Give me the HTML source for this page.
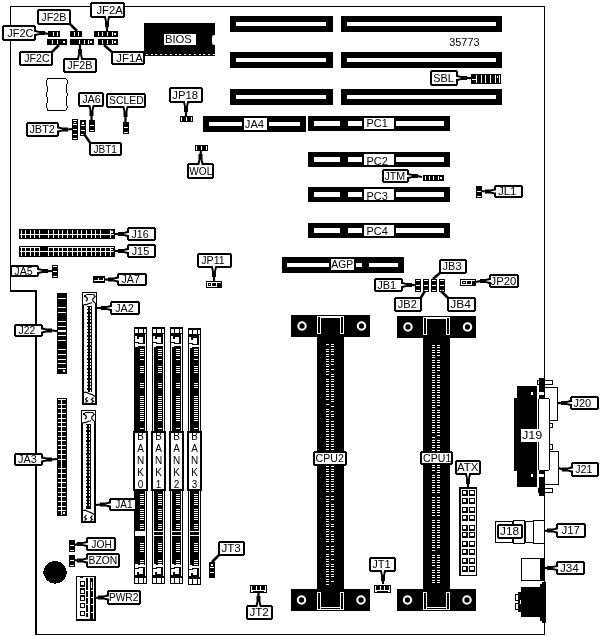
<!DOCTYPE html>
<html><head><meta charset="utf-8"><style>
html,body{margin:0;padding:0;background:#fff;}
svg{display:block;filter:grayscale(100%);}
text{font-family:"Liberation Sans",sans-serif;}
</style></head><body>
<svg width="602" height="636" viewBox="0 0 602 636" shape-rendering="crispEdges">
<rect x="10" y="6" width="535" height="1" fill="#000"/>
<rect x="10" y="6" width="1" height="285" fill="#000"/>
<rect x="10" y="290" width="27" height="2" fill="#000"/>
<rect x="35" y="290" width="2" height="345" fill="#000"/>
<rect x="36" y="634" width="509" height="1" fill="#000"/>
<rect x="544" y="6" width="1" height="629" fill="#000"/>
<rect x="230" y="16" width="103" height="16" fill="#000"/>
<rect x="236" y="22" width="90" height="4" fill="#fff"/>
<rect x="341" y="16" width="161" height="16" fill="#000"/>
<rect x="347" y="22" width="149" height="4" fill="#fff"/>
<rect x="230" y="52" width="103" height="16" fill="#000"/>
<rect x="236" y="58" width="90" height="4" fill="#fff"/>
<rect x="341" y="52" width="161" height="16" fill="#000"/>
<rect x="347" y="58" width="149" height="4" fill="#fff"/>
<rect x="230" y="89" width="103" height="16" fill="#000"/>
<rect x="236" y="95" width="90" height="4" fill="#fff"/>
<rect x="341" y="89" width="161" height="16" fill="#000"/>
<rect x="347" y="95" width="149" height="4" fill="#fff"/>
<rect x="144" y="23" width="71" height="33" fill="#000"/>
<path d="M215,35 h-1 a2,2 0 0 0 -2,2 v6 a2,2 0 0 0 2,2 h1 z" fill="#fff" shape-rendering="auto"/>
<rect x="146" y="54" width="2" height="1" fill="#fff"/>
<rect x="151" y="54" width="2" height="1" fill="#fff"/>
<rect x="155" y="54" width="2" height="1" fill="#fff"/>
<rect x="160" y="54" width="2" height="1" fill="#fff"/>
<rect x="165" y="54" width="2" height="1" fill="#fff"/>
<rect x="170" y="54" width="2" height="1" fill="#fff"/>
<rect x="175" y="54" width="2" height="1" fill="#fff"/>
<rect x="179" y="54" width="2" height="1" fill="#fff"/>
<rect x="184" y="54" width="2" height="1" fill="#fff"/>
<rect x="189" y="54" width="2" height="1" fill="#fff"/>
<rect x="194" y="54" width="2" height="1" fill="#fff"/>
<rect x="199" y="54" width="2" height="1" fill="#fff"/>
<rect x="203" y="54" width="2" height="1" fill="#fff"/>
<rect x="208" y="54" width="2" height="1" fill="#fff"/>
<rect x="213" y="54" width="2" height="1" fill="#fff"/>
<rect x="164" y="34" width="32" height="11" fill="#fff"/>
<text x="178.40" y="43.47" font-size="11.5" text-anchor="middle" fill="#000" textLength="27.0" lengthAdjust="spacingAndGlyphs">BIOS</text>
<text x="464.40" y="45.80" font-size="11.5" text-anchor="middle" fill="#000" textLength="30.2" lengthAdjust="spacingAndGlyphs">35773</text>
<rect x="203" y="116" width="103" height="16" fill="#000"/>
<rect x="209" y="122" width="33" height="4" fill="#fff"/>
<rect x="269" y="122" width="31" height="4" fill="#fff"/>
<rect x="244" y="118" width="23" height="12" fill="#fff"/>
<text x="254.45" y="127.97" font-size="11.5" text-anchor="middle" fill="#000" textLength="19.3" lengthAdjust="spacingAndGlyphs">JA4</text>
<rect x="308" y="116" width="142" height="15" fill="#000"/>
<rect x="314" y="121" width="26" height="5" fill="#fff"/>
<rect x="348" y="121" width="14" height="5" fill="#fff"/>
<rect x="396" y="121" width="48" height="5" fill="#fff"/>
<rect x="364" y="118" width="30" height="11" fill="#fff"/>
<text x="377.10" y="127.47" font-size="11.5" text-anchor="middle" fill="#000" textLength="21.2" lengthAdjust="spacingAndGlyphs">PC1</text>
<rect x="308" y="152" width="142" height="15" fill="#000"/>
<rect x="314" y="157" width="26" height="5" fill="#fff"/>
<rect x="348" y="157" width="14" height="5" fill="#fff"/>
<rect x="396" y="157" width="48" height="5" fill="#fff"/>
<rect x="364" y="154" width="30" height="11" fill="#fff"/>
<text x="377.10" y="164.97" font-size="11.5" text-anchor="middle" fill="#000" textLength="21.2" lengthAdjust="spacingAndGlyphs">PC2</text>
<rect x="308" y="187" width="142" height="15" fill="#000"/>
<rect x="314" y="192" width="26" height="5" fill="#fff"/>
<rect x="348" y="192" width="14" height="5" fill="#fff"/>
<rect x="396" y="192" width="48" height="5" fill="#fff"/>
<rect x="364" y="189" width="30" height="11" fill="#fff"/>
<text x="377.10" y="199.97" font-size="11.5" text-anchor="middle" fill="#000" textLength="21.2" lengthAdjust="spacingAndGlyphs">PC3</text>
<rect x="308" y="223" width="142" height="15" fill="#000"/>
<rect x="314" y="228" width="26" height="5" fill="#fff"/>
<rect x="348" y="228" width="14" height="5" fill="#fff"/>
<rect x="396" y="228" width="48" height="5" fill="#fff"/>
<rect x="364" y="225" width="30" height="11" fill="#fff"/>
<text x="377.10" y="235.27" font-size="11.5" text-anchor="middle" fill="#000" textLength="21.2" lengthAdjust="spacingAndGlyphs">PC4</text>
<rect x="282" y="257" width="122" height="16" fill="#000"/>
<rect x="287" y="263" width="42" height="4" fill="#fff"/>
<rect x="356" y="263" width="6" height="4" fill="#fff"/>
<rect x="369" y="263" width="29" height="4" fill="#fff"/>
<rect x="331" y="259" width="23" height="11" fill="#fff"/>
<text x="342.25" y="268.47" font-size="11.5" text-anchor="middle" fill="#000" textLength="21.9" lengthAdjust="spacingAndGlyphs">AGP</text>
<rect x="291" y="315" width="79" height="22" fill="#000"/>
<rect x="317" y="337" width="27" height="252" fill="#000"/>
<rect x="291" y="589" width="79" height="22" fill="#000"/>
<rect x="317" y="316" width="27" height="1" fill="#fff"/>
<rect x="321" y="317" width="19" height="1" fill="#fff"/>
<rect x="317" y="316" width="1" height="18" fill="#fff"/>
<rect x="320" y="316" width="1" height="18" fill="#fff"/>
<rect x="317" y="333" width="4" height="1" fill="#fff"/>
<rect x="340" y="316" width="1" height="18" fill="#fff"/>
<rect x="343" y="316" width="1" height="18" fill="#fff"/>
<rect x="340" y="333" width="4" height="1" fill="#fff"/>
<rect x="317" y="609" width="27" height="1" fill="#fff"/>
<rect x="321" y="607" width="19" height="1" fill="#fff"/>
<rect x="317" y="592" width="1" height="18" fill="#fff"/>
<rect x="320" y="592" width="1" height="18" fill="#fff"/>
<rect x="317" y="592" width="4" height="1" fill="#fff"/>
<rect x="340" y="592" width="1" height="18" fill="#fff"/>
<rect x="343" y="592" width="1" height="18" fill="#fff"/>
<rect x="340" y="592" width="4" height="1" fill="#fff"/>
<circle cx="302" cy="326" r="3.7" fill="none" stroke="#fff" stroke-width="2.1" shape-rendering="auto"/>
<circle cx="361.5" cy="326" r="3.7" fill="none" stroke="#fff" stroke-width="2.1" shape-rendering="auto"/>
<circle cx="301.5" cy="600" r="3.7" fill="none" stroke="#fff" stroke-width="2.1" shape-rendering="auto"/>
<circle cx="361" cy="600" r="3.7" fill="none" stroke="#fff" stroke-width="2.1" shape-rendering="auto"/>
<rect x="326" y="344" width="3" height="1" fill="#fff"/>
<rect x="331" y="344" width="3" height="1" fill="#fff"/>
<rect x="331" y="346" width="3" height="1" fill="#fff"/>
<rect x="326" y="349" width="3" height="1" fill="#fff"/>
<rect x="331" y="349" width="3" height="1" fill="#fff"/>
<rect x="326" y="351" width="3" height="1" fill="#fff"/>
<rect x="331" y="351" width="3" height="1" fill="#fff"/>
<rect x="326" y="354" width="3" height="1" fill="#fff"/>
<rect x="331" y="354" width="3" height="1" fill="#fff"/>
<rect x="326" y="356" width="3" height="1" fill="#fff"/>
<rect x="326" y="359" width="3" height="1" fill="#fff"/>
<rect x="331" y="359" width="3" height="1" fill="#fff"/>
<rect x="326" y="361" width="3" height="1" fill="#fff"/>
<rect x="331" y="361" width="3" height="1" fill="#fff"/>
<rect x="326" y="364" width="3" height="1" fill="#fff"/>
<rect x="331" y="364" width="3" height="1" fill="#fff"/>
<rect x="326" y="366" width="3" height="1" fill="#fff"/>
<rect x="326" y="369" width="3" height="1" fill="#fff"/>
<rect x="331" y="369" width="3" height="1" fill="#fff"/>
<rect x="326" y="371" width="3" height="1" fill="#fff"/>
<rect x="326" y="374" width="3" height="1" fill="#fff"/>
<rect x="331" y="374" width="3" height="1" fill="#fff"/>
<rect x="331" y="376" width="3" height="1" fill="#fff"/>
<rect x="326" y="379" width="3" height="1" fill="#fff"/>
<rect x="331" y="379" width="3" height="1" fill="#fff"/>
<rect x="326" y="381" width="3" height="1" fill="#fff"/>
<rect x="331" y="381" width="3" height="1" fill="#fff"/>
<rect x="326" y="384" width="3" height="1" fill="#fff"/>
<rect x="331" y="384" width="3" height="1" fill="#fff"/>
<rect x="326" y="386" width="3" height="1" fill="#fff"/>
<rect x="331" y="386" width="3" height="1" fill="#fff"/>
<rect x="326" y="389" width="3" height="1" fill="#fff"/>
<rect x="331" y="389" width="3" height="1" fill="#fff"/>
<rect x="326" y="391" width="3" height="1" fill="#fff"/>
<rect x="331" y="391" width="3" height="1" fill="#fff"/>
<rect x="326" y="394" width="3" height="1" fill="#fff"/>
<rect x="331" y="394" width="3" height="1" fill="#fff"/>
<rect x="326" y="396" width="3" height="1" fill="#fff"/>
<rect x="331" y="396" width="3" height="1" fill="#fff"/>
<rect x="326" y="399" width="3" height="1" fill="#fff"/>
<rect x="331" y="399" width="3" height="1" fill="#fff"/>
<rect x="331" y="401" width="3" height="1" fill="#fff"/>
<rect x="326" y="404" width="3" height="1" fill="#fff"/>
<rect x="331" y="406" width="3" height="1" fill="#fff"/>
<rect x="326" y="409" width="3" height="1" fill="#fff"/>
<rect x="326" y="411" width="3" height="1" fill="#fff"/>
<rect x="331" y="411" width="3" height="1" fill="#fff"/>
<rect x="326" y="414" width="3" height="1" fill="#fff"/>
<rect x="331" y="414" width="3" height="1" fill="#fff"/>
<rect x="326" y="416" width="3" height="1" fill="#fff"/>
<rect x="331" y="416" width="3" height="1" fill="#fff"/>
<rect x="326" y="419" width="3" height="1" fill="#fff"/>
<rect x="326" y="421" width="3" height="1" fill="#fff"/>
<rect x="331" y="421" width="3" height="1" fill="#fff"/>
<rect x="326" y="424" width="3" height="1" fill="#fff"/>
<rect x="331" y="424" width="3" height="1" fill="#fff"/>
<rect x="326" y="426" width="3" height="1" fill="#fff"/>
<rect x="331" y="426" width="3" height="1" fill="#fff"/>
<rect x="326" y="429" width="3" height="1" fill="#fff"/>
<rect x="331" y="429" width="3" height="1" fill="#fff"/>
<rect x="326" y="431" width="3" height="1" fill="#fff"/>
<rect x="331" y="431" width="3" height="1" fill="#fff"/>
<rect x="326" y="434" width="3" height="1" fill="#fff"/>
<rect x="331" y="434" width="3" height="1" fill="#fff"/>
<rect x="326" y="436" width="3" height="1" fill="#fff"/>
<rect x="331" y="436" width="3" height="1" fill="#fff"/>
<rect x="326" y="439" width="3" height="1" fill="#fff"/>
<rect x="331" y="439" width="3" height="1" fill="#fff"/>
<rect x="326" y="441" width="3" height="1" fill="#fff"/>
<rect x="331" y="441" width="3" height="1" fill="#fff"/>
<rect x="326" y="444" width="3" height="1" fill="#fff"/>
<rect x="331" y="444" width="3" height="1" fill="#fff"/>
<rect x="326" y="446" width="3" height="1" fill="#fff"/>
<rect x="331" y="446" width="3" height="1" fill="#fff"/>
<rect x="326" y="449" width="3" height="1" fill="#fff"/>
<rect x="331" y="449" width="3" height="1" fill="#fff"/>
<rect x="326" y="451" width="3" height="1" fill="#fff"/>
<rect x="331" y="451" width="3" height="1" fill="#fff"/>
<rect x="326" y="454" width="3" height="1" fill="#fff"/>
<rect x="326" y="456" width="3" height="1" fill="#fff"/>
<rect x="331" y="456" width="3" height="1" fill="#fff"/>
<rect x="326" y="459" width="3" height="1" fill="#fff"/>
<rect x="331" y="459" width="3" height="1" fill="#fff"/>
<rect x="326" y="461" width="3" height="1" fill="#fff"/>
<rect x="331" y="461" width="3" height="1" fill="#fff"/>
<rect x="326" y="464" width="3" height="1" fill="#fff"/>
<rect x="331" y="464" width="3" height="1" fill="#fff"/>
<rect x="326" y="466" width="3" height="1" fill="#fff"/>
<rect x="331" y="466" width="3" height="1" fill="#fff"/>
<rect x="326" y="469" width="3" height="1" fill="#fff"/>
<rect x="331" y="469" width="3" height="1" fill="#fff"/>
<rect x="326" y="471" width="3" height="1" fill="#fff"/>
<rect x="331" y="471" width="3" height="1" fill="#fff"/>
<rect x="326" y="474" width="3" height="1" fill="#fff"/>
<rect x="331" y="474" width="3" height="1" fill="#fff"/>
<rect x="326" y="476" width="3" height="1" fill="#fff"/>
<rect x="331" y="476" width="3" height="1" fill="#fff"/>
<rect x="326" y="479" width="3" height="1" fill="#fff"/>
<rect x="331" y="479" width="3" height="1" fill="#fff"/>
<rect x="326" y="481" width="3" height="1" fill="#fff"/>
<rect x="331" y="481" width="3" height="1" fill="#fff"/>
<rect x="326" y="484" width="3" height="1" fill="#fff"/>
<rect x="331" y="484" width="3" height="1" fill="#fff"/>
<rect x="326" y="486" width="3" height="1" fill="#fff"/>
<rect x="331" y="486" width="3" height="1" fill="#fff"/>
<rect x="326" y="489" width="3" height="1" fill="#fff"/>
<rect x="331" y="489" width="3" height="1" fill="#fff"/>
<rect x="326" y="491" width="3" height="1" fill="#fff"/>
<rect x="331" y="491" width="3" height="1" fill="#fff"/>
<rect x="326" y="496" width="3" height="1" fill="#fff"/>
<rect x="331" y="496" width="3" height="1" fill="#fff"/>
<rect x="326" y="499" width="3" height="1" fill="#fff"/>
<rect x="331" y="499" width="3" height="1" fill="#fff"/>
<rect x="326" y="501" width="3" height="1" fill="#fff"/>
<rect x="326" y="504" width="3" height="1" fill="#fff"/>
<rect x="331" y="504" width="3" height="1" fill="#fff"/>
<rect x="326" y="506" width="3" height="1" fill="#fff"/>
<rect x="331" y="506" width="3" height="1" fill="#fff"/>
<rect x="326" y="509" width="3" height="1" fill="#fff"/>
<rect x="331" y="509" width="3" height="1" fill="#fff"/>
<rect x="326" y="511" width="3" height="1" fill="#fff"/>
<rect x="331" y="511" width="3" height="1" fill="#fff"/>
<rect x="326" y="514" width="3" height="1" fill="#fff"/>
<rect x="331" y="514" width="3" height="1" fill="#fff"/>
<rect x="326" y="516" width="3" height="1" fill="#fff"/>
<rect x="331" y="516" width="3" height="1" fill="#fff"/>
<rect x="326" y="519" width="3" height="1" fill="#fff"/>
<rect x="331" y="519" width="3" height="1" fill="#fff"/>
<rect x="326" y="521" width="3" height="1" fill="#fff"/>
<rect x="326" y="524" width="3" height="1" fill="#fff"/>
<rect x="331" y="524" width="3" height="1" fill="#fff"/>
<rect x="326" y="526" width="3" height="1" fill="#fff"/>
<rect x="331" y="526" width="3" height="1" fill="#fff"/>
<rect x="326" y="529" width="3" height="1" fill="#fff"/>
<rect x="326" y="531" width="3" height="1" fill="#fff"/>
<rect x="331" y="531" width="3" height="1" fill="#fff"/>
<rect x="326" y="534" width="3" height="1" fill="#fff"/>
<rect x="331" y="534" width="3" height="1" fill="#fff"/>
<rect x="326" y="536" width="3" height="1" fill="#fff"/>
<rect x="331" y="536" width="3" height="1" fill="#fff"/>
<rect x="326" y="539" width="3" height="1" fill="#fff"/>
<rect x="331" y="539" width="3" height="1" fill="#fff"/>
<rect x="326" y="541" width="3" height="1" fill="#fff"/>
<rect x="331" y="541" width="3" height="1" fill="#fff"/>
<rect x="326" y="546" width="3" height="1" fill="#fff"/>
<rect x="331" y="546" width="3" height="1" fill="#fff"/>
<rect x="326" y="549" width="3" height="1" fill="#fff"/>
<rect x="331" y="549" width="3" height="1" fill="#fff"/>
<rect x="331" y="551" width="3" height="1" fill="#fff"/>
<rect x="326" y="554" width="3" height="1" fill="#fff"/>
<rect x="331" y="554" width="3" height="1" fill="#fff"/>
<rect x="326" y="556" width="3" height="1" fill="#fff"/>
<rect x="326" y="559" width="3" height="1" fill="#fff"/>
<rect x="331" y="559" width="3" height="1" fill="#fff"/>
<rect x="326" y="561" width="3" height="1" fill="#fff"/>
<rect x="326" y="564" width="3" height="1" fill="#fff"/>
<rect x="331" y="564" width="3" height="1" fill="#fff"/>
<rect x="326" y="566" width="3" height="1" fill="#fff"/>
<rect x="331" y="566" width="3" height="1" fill="#fff"/>
<rect x="326" y="569" width="3" height="1" fill="#fff"/>
<rect x="331" y="569" width="3" height="1" fill="#fff"/>
<rect x="326" y="571" width="3" height="1" fill="#fff"/>
<rect x="331" y="571" width="3" height="1" fill="#fff"/>
<rect x="326" y="574" width="3" height="1" fill="#fff"/>
<rect x="331" y="574" width="3" height="1" fill="#fff"/>
<rect x="326" y="576" width="3" height="1" fill="#fff"/>
<rect x="331" y="576" width="3" height="1" fill="#fff"/>
<rect x="326" y="579" width="3" height="1" fill="#fff"/>
<rect x="326" y="581" width="3" height="1" fill="#fff"/>
<rect x="331" y="581" width="3" height="1" fill="#fff"/>
<rect x="326" y="584" width="3" height="1" fill="#fff"/>
<rect x="397" y="316" width="79" height="22" fill="#000"/>
<rect x="423" y="338" width="27" height="251" fill="#000"/>
<rect x="397" y="589" width="79" height="22" fill="#000"/>
<rect x="423" y="317" width="27" height="1" fill="#fff"/>
<rect x="427" y="318" width="19" height="1" fill="#fff"/>
<rect x="423" y="317" width="1" height="18" fill="#fff"/>
<rect x="426" y="317" width="1" height="18" fill="#fff"/>
<rect x="423" y="334" width="4" height="1" fill="#fff"/>
<rect x="446" y="317" width="1" height="18" fill="#fff"/>
<rect x="449" y="317" width="1" height="18" fill="#fff"/>
<rect x="446" y="334" width="4" height="1" fill="#fff"/>
<rect x="423" y="609" width="27" height="1" fill="#fff"/>
<rect x="427" y="607" width="19" height="1" fill="#fff"/>
<rect x="423" y="592" width="1" height="18" fill="#fff"/>
<rect x="426" y="592" width="1" height="18" fill="#fff"/>
<rect x="423" y="592" width="4" height="1" fill="#fff"/>
<rect x="446" y="592" width="1" height="18" fill="#fff"/>
<rect x="449" y="592" width="1" height="18" fill="#fff"/>
<rect x="446" y="592" width="4" height="1" fill="#fff"/>
<circle cx="408" cy="327" r="3.7" fill="none" stroke="#fff" stroke-width="2.1" shape-rendering="auto"/>
<circle cx="467.5" cy="327" r="3.7" fill="none" stroke="#fff" stroke-width="2.1" shape-rendering="auto"/>
<circle cx="407.5" cy="600" r="3.7" fill="none" stroke="#fff" stroke-width="2.1" shape-rendering="auto"/>
<circle cx="467" cy="600" r="3.7" fill="none" stroke="#fff" stroke-width="2.1" shape-rendering="auto"/>
<rect x="432" y="345" width="3" height="1" fill="#fff"/>
<rect x="437" y="345" width="3" height="1" fill="#fff"/>
<rect x="432" y="347" width="3" height="1" fill="#fff"/>
<rect x="437" y="347" width="3" height="1" fill="#fff"/>
<rect x="432" y="350" width="3" height="1" fill="#fff"/>
<rect x="437" y="350" width="3" height="1" fill="#fff"/>
<rect x="432" y="352" width="3" height="1" fill="#fff"/>
<rect x="437" y="352" width="3" height="1" fill="#fff"/>
<rect x="432" y="355" width="3" height="1" fill="#fff"/>
<rect x="437" y="355" width="3" height="1" fill="#fff"/>
<rect x="432" y="357" width="3" height="1" fill="#fff"/>
<rect x="432" y="360" width="3" height="1" fill="#fff"/>
<rect x="437" y="360" width="3" height="1" fill="#fff"/>
<rect x="432" y="362" width="3" height="1" fill="#fff"/>
<rect x="437" y="362" width="3" height="1" fill="#fff"/>
<rect x="432" y="365" width="3" height="1" fill="#fff"/>
<rect x="437" y="365" width="3" height="1" fill="#fff"/>
<rect x="432" y="367" width="3" height="1" fill="#fff"/>
<rect x="437" y="367" width="3" height="1" fill="#fff"/>
<rect x="432" y="370" width="3" height="1" fill="#fff"/>
<rect x="437" y="370" width="3" height="1" fill="#fff"/>
<rect x="432" y="372" width="3" height="1" fill="#fff"/>
<rect x="432" y="375" width="3" height="1" fill="#fff"/>
<rect x="437" y="375" width="3" height="1" fill="#fff"/>
<rect x="432" y="377" width="3" height="1" fill="#fff"/>
<rect x="437" y="377" width="3" height="1" fill="#fff"/>
<rect x="432" y="380" width="3" height="1" fill="#fff"/>
<rect x="437" y="380" width="3" height="1" fill="#fff"/>
<rect x="432" y="382" width="3" height="1" fill="#fff"/>
<rect x="437" y="382" width="3" height="1" fill="#fff"/>
<rect x="432" y="385" width="3" height="1" fill="#fff"/>
<rect x="437" y="385" width="3" height="1" fill="#fff"/>
<rect x="432" y="387" width="3" height="1" fill="#fff"/>
<rect x="437" y="387" width="3" height="1" fill="#fff"/>
<rect x="432" y="390" width="3" height="1" fill="#fff"/>
<rect x="437" y="390" width="3" height="1" fill="#fff"/>
<rect x="432" y="392" width="3" height="1" fill="#fff"/>
<rect x="437" y="392" width="3" height="1" fill="#fff"/>
<rect x="432" y="395" width="3" height="1" fill="#fff"/>
<rect x="437" y="395" width="3" height="1" fill="#fff"/>
<rect x="432" y="397" width="3" height="1" fill="#fff"/>
<rect x="437" y="397" width="3" height="1" fill="#fff"/>
<rect x="432" y="400" width="3" height="1" fill="#fff"/>
<rect x="437" y="400" width="3" height="1" fill="#fff"/>
<rect x="432" y="402" width="3" height="1" fill="#fff"/>
<rect x="437" y="402" width="3" height="1" fill="#fff"/>
<rect x="432" y="405" width="3" height="1" fill="#fff"/>
<rect x="437" y="405" width="3" height="1" fill="#fff"/>
<rect x="432" y="407" width="3" height="1" fill="#fff"/>
<rect x="432" y="410" width="3" height="1" fill="#fff"/>
<rect x="437" y="410" width="3" height="1" fill="#fff"/>
<rect x="432" y="412" width="3" height="1" fill="#fff"/>
<rect x="437" y="412" width="3" height="1" fill="#fff"/>
<rect x="432" y="415" width="3" height="1" fill="#fff"/>
<rect x="437" y="415" width="3" height="1" fill="#fff"/>
<rect x="432" y="417" width="3" height="1" fill="#fff"/>
<rect x="437" y="417" width="3" height="1" fill="#fff"/>
<rect x="432" y="420" width="3" height="1" fill="#fff"/>
<rect x="437" y="420" width="3" height="1" fill="#fff"/>
<rect x="432" y="422" width="3" height="1" fill="#fff"/>
<rect x="437" y="422" width="3" height="1" fill="#fff"/>
<rect x="432" y="425" width="3" height="1" fill="#fff"/>
<rect x="437" y="425" width="3" height="1" fill="#fff"/>
<rect x="432" y="427" width="3" height="1" fill="#fff"/>
<rect x="437" y="427" width="3" height="1" fill="#fff"/>
<rect x="432" y="430" width="3" height="1" fill="#fff"/>
<rect x="437" y="430" width="3" height="1" fill="#fff"/>
<rect x="432" y="432" width="3" height="1" fill="#fff"/>
<rect x="437" y="432" width="3" height="1" fill="#fff"/>
<rect x="437" y="435" width="3" height="1" fill="#fff"/>
<rect x="432" y="437" width="3" height="1" fill="#fff"/>
<rect x="432" y="440" width="3" height="1" fill="#fff"/>
<rect x="437" y="440" width="3" height="1" fill="#fff"/>
<rect x="432" y="442" width="3" height="1" fill="#fff"/>
<rect x="437" y="442" width="3" height="1" fill="#fff"/>
<rect x="432" y="445" width="3" height="1" fill="#fff"/>
<rect x="437" y="445" width="3" height="1" fill="#fff"/>
<rect x="432" y="447" width="3" height="1" fill="#fff"/>
<rect x="437" y="447" width="3" height="1" fill="#fff"/>
<rect x="432" y="450" width="3" height="1" fill="#fff"/>
<rect x="437" y="450" width="3" height="1" fill="#fff"/>
<rect x="432" y="452" width="3" height="1" fill="#fff"/>
<rect x="437" y="452" width="3" height="1" fill="#fff"/>
<rect x="432" y="455" width="3" height="1" fill="#fff"/>
<rect x="437" y="455" width="3" height="1" fill="#fff"/>
<rect x="432" y="457" width="3" height="1" fill="#fff"/>
<rect x="437" y="457" width="3" height="1" fill="#fff"/>
<rect x="432" y="460" width="3" height="1" fill="#fff"/>
<rect x="437" y="460" width="3" height="1" fill="#fff"/>
<rect x="432" y="462" width="3" height="1" fill="#fff"/>
<rect x="437" y="462" width="3" height="1" fill="#fff"/>
<rect x="432" y="465" width="3" height="1" fill="#fff"/>
<rect x="437" y="465" width="3" height="1" fill="#fff"/>
<rect x="432" y="467" width="3" height="1" fill="#fff"/>
<rect x="437" y="467" width="3" height="1" fill="#fff"/>
<rect x="432" y="470" width="3" height="1" fill="#fff"/>
<rect x="437" y="470" width="3" height="1" fill="#fff"/>
<rect x="437" y="472" width="3" height="1" fill="#fff"/>
<rect x="432" y="475" width="3" height="1" fill="#fff"/>
<rect x="437" y="475" width="3" height="1" fill="#fff"/>
<rect x="432" y="477" width="3" height="1" fill="#fff"/>
<rect x="437" y="477" width="3" height="1" fill="#fff"/>
<rect x="432" y="480" width="3" height="1" fill="#fff"/>
<rect x="437" y="480" width="3" height="1" fill="#fff"/>
<rect x="432" y="482" width="3" height="1" fill="#fff"/>
<rect x="437" y="482" width="3" height="1" fill="#fff"/>
<rect x="432" y="485" width="3" height="1" fill="#fff"/>
<rect x="437" y="485" width="3" height="1" fill="#fff"/>
<rect x="432" y="487" width="3" height="1" fill="#fff"/>
<rect x="437" y="487" width="3" height="1" fill="#fff"/>
<rect x="432" y="490" width="3" height="1" fill="#fff"/>
<rect x="437" y="490" width="3" height="1" fill="#fff"/>
<rect x="432" y="492" width="3" height="1" fill="#fff"/>
<rect x="437" y="492" width="3" height="1" fill="#fff"/>
<rect x="432" y="497" width="3" height="1" fill="#fff"/>
<rect x="437" y="497" width="3" height="1" fill="#fff"/>
<rect x="432" y="500" width="3" height="1" fill="#fff"/>
<rect x="437" y="500" width="3" height="1" fill="#fff"/>
<rect x="432" y="502" width="3" height="1" fill="#fff"/>
<rect x="437" y="502" width="3" height="1" fill="#fff"/>
<rect x="432" y="505" width="3" height="1" fill="#fff"/>
<rect x="437" y="505" width="3" height="1" fill="#fff"/>
<rect x="432" y="507" width="3" height="1" fill="#fff"/>
<rect x="437" y="507" width="3" height="1" fill="#fff"/>
<rect x="432" y="510" width="3" height="1" fill="#fff"/>
<rect x="437" y="510" width="3" height="1" fill="#fff"/>
<rect x="432" y="512" width="3" height="1" fill="#fff"/>
<rect x="437" y="512" width="3" height="1" fill="#fff"/>
<rect x="432" y="515" width="3" height="1" fill="#fff"/>
<rect x="437" y="515" width="3" height="1" fill="#fff"/>
<rect x="432" y="520" width="3" height="1" fill="#fff"/>
<rect x="437" y="520" width="3" height="1" fill="#fff"/>
<rect x="432" y="522" width="3" height="1" fill="#fff"/>
<rect x="437" y="522" width="3" height="1" fill="#fff"/>
<rect x="432" y="525" width="3" height="1" fill="#fff"/>
<rect x="437" y="525" width="3" height="1" fill="#fff"/>
<rect x="432" y="527" width="3" height="1" fill="#fff"/>
<rect x="437" y="527" width="3" height="1" fill="#fff"/>
<rect x="432" y="530" width="3" height="1" fill="#fff"/>
<rect x="437" y="530" width="3" height="1" fill="#fff"/>
<rect x="432" y="532" width="3" height="1" fill="#fff"/>
<rect x="437" y="532" width="3" height="1" fill="#fff"/>
<rect x="432" y="535" width="3" height="1" fill="#fff"/>
<rect x="437" y="535" width="3" height="1" fill="#fff"/>
<rect x="432" y="537" width="3" height="1" fill="#fff"/>
<rect x="437" y="537" width="3" height="1" fill="#fff"/>
<rect x="432" y="540" width="3" height="1" fill="#fff"/>
<rect x="437" y="540" width="3" height="1" fill="#fff"/>
<rect x="432" y="542" width="3" height="1" fill="#fff"/>
<rect x="437" y="542" width="3" height="1" fill="#fff"/>
<rect x="432" y="545" width="3" height="1" fill="#fff"/>
<rect x="437" y="545" width="3" height="1" fill="#fff"/>
<rect x="432" y="547" width="3" height="1" fill="#fff"/>
<rect x="437" y="547" width="3" height="1" fill="#fff"/>
<rect x="432" y="550" width="3" height="1" fill="#fff"/>
<rect x="432" y="555" width="3" height="1" fill="#fff"/>
<rect x="437" y="555" width="3" height="1" fill="#fff"/>
<rect x="432" y="557" width="3" height="1" fill="#fff"/>
<rect x="437" y="557" width="3" height="1" fill="#fff"/>
<rect x="432" y="560" width="3" height="1" fill="#fff"/>
<rect x="437" y="560" width="3" height="1" fill="#fff"/>
<rect x="432" y="562" width="3" height="1" fill="#fff"/>
<rect x="437" y="562" width="3" height="1" fill="#fff"/>
<rect x="432" y="565" width="3" height="1" fill="#fff"/>
<rect x="437" y="565" width="3" height="1" fill="#fff"/>
<rect x="437" y="567" width="3" height="1" fill="#fff"/>
<rect x="432" y="570" width="3" height="1" fill="#fff"/>
<rect x="437" y="570" width="3" height="1" fill="#fff"/>
<rect x="432" y="572" width="3" height="1" fill="#fff"/>
<rect x="437" y="572" width="3" height="1" fill="#fff"/>
<rect x="432" y="575" width="3" height="1" fill="#fff"/>
<rect x="437" y="575" width="3" height="1" fill="#fff"/>
<rect x="432" y="577" width="3" height="1" fill="#fff"/>
<rect x="437" y="577" width="3" height="1" fill="#fff"/>
<rect x="432" y="580" width="3" height="1" fill="#fff"/>
<rect x="437" y="580" width="3" height="1" fill="#fff"/>
<rect x="432" y="582" width="3" height="1" fill="#fff"/>
<rect x="437" y="582" width="3" height="1" fill="#fff"/>
<rect x="134" y="327" width="13" height="257" fill="#000"/>
<rect x="135" y="329" width="3" height="4" fill="#fff"/>
<rect x="139" y="329" width="4" height="4" fill="#fff"/>
<rect x="144" y="329" width="2" height="4" fill="#fff"/>
<rect x="135" y="578" width="3" height="5" fill="#fff"/>
<rect x="139" y="578" width="4" height="5" fill="#fff"/>
<rect x="144" y="578" width="2" height="5" fill="#fff"/>
<rect x="135" y="336" width="2" height="6" fill="#fff"/>
<rect x="135" y="569" width="2" height="6" fill="#fff"/>
<rect x="135" y="339" width="4" height="3" fill="#fff"/>
<rect x="135" y="569" width="4" height="3" fill="#fff"/>
<rect x="139" y="337" width="4" height="6" fill="#fff"/>
<rect x="139" y="568" width="4" height="6" fill="#fff"/>
<rect x="135" y="343" width="3" height="4" fill="#fff"/>
<rect x="135" y="564" width="3" height="4" fill="#fff"/>
<rect x="138" y="344" width="7" height="2" fill="#fff"/>
<rect x="138" y="565" width="7" height="2" fill="#fff"/>
<rect x="145" y="334" width="1" height="242" fill="#fff"/>
<rect x="140" y="349" width="4" height="1" fill="#fff"/>
<rect x="140" y="351" width="4" height="1" fill="#fff"/>
<rect x="140" y="353" width="4" height="1" fill="#fff"/>
<rect x="140" y="355" width="4" height="1" fill="#fff"/>
<rect x="140" y="359" width="4" height="1" fill="#fff"/>
<rect x="140" y="366" width="4" height="1" fill="#fff"/>
<rect x="140" y="368" width="4" height="1" fill="#fff"/>
<rect x="140" y="370" width="4" height="1" fill="#fff"/>
<rect x="140" y="372" width="4" height="1" fill="#fff"/>
<rect x="140" y="383" width="4" height="1" fill="#fff"/>
<rect x="140" y="385" width="4" height="1" fill="#fff"/>
<rect x="140" y="387" width="4" height="1" fill="#fff"/>
<rect x="140" y="396" width="4" height="1" fill="#fff"/>
<rect x="140" y="398" width="4" height="1" fill="#fff"/>
<rect x="140" y="400" width="4" height="1" fill="#fff"/>
<rect x="140" y="402" width="4" height="1" fill="#fff"/>
<rect x="140" y="404" width="4" height="1" fill="#fff"/>
<rect x="140" y="406" width="4" height="1" fill="#fff"/>
<rect x="140" y="408" width="4" height="1" fill="#fff"/>
<rect x="140" y="410" width="4" height="1" fill="#fff"/>
<rect x="140" y="412" width="4" height="1" fill="#fff"/>
<rect x="140" y="414" width="4" height="1" fill="#fff"/>
<rect x="140" y="416" width="4" height="1" fill="#fff"/>
<rect x="140" y="418" width="4" height="1" fill="#fff"/>
<rect x="140" y="420" width="4" height="1" fill="#fff"/>
<rect x="140" y="428" width="4" height="1" fill="#fff"/>
<rect x="140" y="494" width="4" height="1" fill="#fff"/>
<rect x="140" y="496" width="4" height="1" fill="#fff"/>
<rect x="140" y="498" width="4" height="1" fill="#fff"/>
<rect x="140" y="500" width="4" height="1" fill="#fff"/>
<rect x="140" y="502" width="4" height="1" fill="#fff"/>
<rect x="140" y="504" width="4" height="1" fill="#fff"/>
<rect x="140" y="509" width="4" height="1" fill="#fff"/>
<rect x="140" y="511" width="4" height="1" fill="#fff"/>
<rect x="140" y="513" width="4" height="1" fill="#fff"/>
<rect x="140" y="515" width="4" height="1" fill="#fff"/>
<rect x="140" y="517" width="4" height="1" fill="#fff"/>
<rect x="140" y="519" width="4" height="1" fill="#fff"/>
<rect x="140" y="524" width="4" height="1" fill="#fff"/>
<rect x="140" y="526" width="4" height="1" fill="#fff"/>
<rect x="140" y="528" width="4" height="1" fill="#fff"/>
<rect x="140" y="543" width="4" height="1" fill="#fff"/>
<rect x="140" y="545" width="4" height="1" fill="#fff"/>
<rect x="140" y="547" width="4" height="1" fill="#fff"/>
<rect x="140" y="549" width="4" height="1" fill="#fff"/>
<rect x="140" y="551" width="4" height="1" fill="#fff"/>
<rect x="140" y="560" width="4" height="1" fill="#fff"/>
<rect x="140" y="562" width="4" height="1" fill="#fff"/>
<rect x="140" y="564" width="4" height="1" fill="#fff"/>
<rect x="135" y="531" width="10" height="5" fill="#fff"/>
<rect x="133" y="431" width="15" height="60" fill="#fff"/>
<rect x="133" y="431" width="15" height="2" fill="#000"/>
<rect x="133" y="489" width="15" height="2" fill="#000"/>
<rect x="133" y="431" width="2" height="60" fill="#000"/>
<rect x="146" y="431" width="2" height="60" fill="#000"/>
<text transform="translate(140.50,439.50) scale(0.95,1)" x="0" y="0" font-size="10.5" text-anchor="middle" fill="#000">B</text>
<text transform="translate(140.50,451.60) scale(0.95,1)" x="0" y="0" font-size="10.5" text-anchor="middle" fill="#000">A</text>
<text transform="translate(140.50,463.70) scale(0.95,1)" x="0" y="0" font-size="10.5" text-anchor="middle" fill="#000">N</text>
<text transform="translate(140.50,475.80) scale(0.95,1)" x="0" y="0" font-size="10.5" text-anchor="middle" fill="#000">K</text>
<text transform="translate(140.50,487.90) scale(0.95,1)" x="0" y="0" font-size="10.5" text-anchor="middle" fill="#000">0</text>
<rect x="152" y="327" width="13" height="257" fill="#000"/>
<rect x="153" y="329" width="3" height="4" fill="#fff"/>
<rect x="157" y="329" width="4" height="4" fill="#fff"/>
<rect x="162" y="329" width="2" height="4" fill="#fff"/>
<rect x="153" y="578" width="3" height="5" fill="#fff"/>
<rect x="157" y="578" width="4" height="5" fill="#fff"/>
<rect x="162" y="578" width="2" height="5" fill="#fff"/>
<rect x="153" y="336" width="2" height="6" fill="#fff"/>
<rect x="153" y="569" width="2" height="6" fill="#fff"/>
<rect x="153" y="339" width="4" height="3" fill="#fff"/>
<rect x="153" y="569" width="4" height="3" fill="#fff"/>
<rect x="157" y="337" width="4" height="6" fill="#fff"/>
<rect x="157" y="568" width="4" height="6" fill="#fff"/>
<rect x="153" y="343" width="3" height="4" fill="#fff"/>
<rect x="153" y="564" width="3" height="4" fill="#fff"/>
<rect x="156" y="344" width="7" height="2" fill="#fff"/>
<rect x="156" y="565" width="7" height="2" fill="#fff"/>
<rect x="163" y="334" width="1" height="242" fill="#fff"/>
<rect x="153" y="347" width="1" height="217" fill="#fff"/>
<rect x="158" y="349" width="4" height="1" fill="#fff"/>
<rect x="158" y="351" width="4" height="1" fill="#fff"/>
<rect x="158" y="353" width="4" height="1" fill="#fff"/>
<rect x="158" y="355" width="4" height="1" fill="#fff"/>
<rect x="158" y="359" width="4" height="1" fill="#fff"/>
<rect x="158" y="366" width="4" height="1" fill="#fff"/>
<rect x="158" y="368" width="4" height="1" fill="#fff"/>
<rect x="158" y="370" width="4" height="1" fill="#fff"/>
<rect x="158" y="372" width="4" height="1" fill="#fff"/>
<rect x="158" y="383" width="4" height="1" fill="#fff"/>
<rect x="158" y="385" width="4" height="1" fill="#fff"/>
<rect x="158" y="387" width="4" height="1" fill="#fff"/>
<rect x="158" y="396" width="4" height="1" fill="#fff"/>
<rect x="158" y="398" width="4" height="1" fill="#fff"/>
<rect x="158" y="400" width="4" height="1" fill="#fff"/>
<rect x="158" y="402" width="4" height="1" fill="#fff"/>
<rect x="158" y="404" width="4" height="1" fill="#fff"/>
<rect x="158" y="406" width="4" height="1" fill="#fff"/>
<rect x="158" y="408" width="4" height="1" fill="#fff"/>
<rect x="158" y="410" width="4" height="1" fill="#fff"/>
<rect x="158" y="412" width="4" height="1" fill="#fff"/>
<rect x="158" y="414" width="4" height="1" fill="#fff"/>
<rect x="158" y="416" width="4" height="1" fill="#fff"/>
<rect x="158" y="418" width="4" height="1" fill="#fff"/>
<rect x="158" y="420" width="4" height="1" fill="#fff"/>
<rect x="158" y="428" width="4" height="1" fill="#fff"/>
<rect x="158" y="494" width="4" height="1" fill="#fff"/>
<rect x="158" y="496" width="4" height="1" fill="#fff"/>
<rect x="158" y="498" width="4" height="1" fill="#fff"/>
<rect x="158" y="500" width="4" height="1" fill="#fff"/>
<rect x="158" y="502" width="4" height="1" fill="#fff"/>
<rect x="158" y="504" width="4" height="1" fill="#fff"/>
<rect x="158" y="509" width="4" height="1" fill="#fff"/>
<rect x="158" y="511" width="4" height="1" fill="#fff"/>
<rect x="158" y="513" width="4" height="1" fill="#fff"/>
<rect x="158" y="515" width="4" height="1" fill="#fff"/>
<rect x="158" y="517" width="4" height="1" fill="#fff"/>
<rect x="158" y="519" width="4" height="1" fill="#fff"/>
<rect x="158" y="524" width="4" height="1" fill="#fff"/>
<rect x="158" y="526" width="4" height="1" fill="#fff"/>
<rect x="158" y="528" width="4" height="1" fill="#fff"/>
<rect x="158" y="543" width="4" height="1" fill="#fff"/>
<rect x="158" y="545" width="4" height="1" fill="#fff"/>
<rect x="158" y="547" width="4" height="1" fill="#fff"/>
<rect x="158" y="549" width="4" height="1" fill="#fff"/>
<rect x="158" y="551" width="4" height="1" fill="#fff"/>
<rect x="158" y="560" width="4" height="1" fill="#fff"/>
<rect x="158" y="562" width="4" height="1" fill="#fff"/>
<rect x="158" y="564" width="4" height="1" fill="#fff"/>
<rect x="154" y="531" width="9" height="1" fill="#fff"/>
<rect x="154" y="535" width="9" height="1" fill="#fff"/>
<rect x="151" y="431" width="15" height="60" fill="#fff"/>
<rect x="151" y="431" width="15" height="2" fill="#000"/>
<rect x="151" y="489" width="15" height="2" fill="#000"/>
<rect x="151" y="431" width="2" height="60" fill="#000"/>
<rect x="164" y="431" width="2" height="60" fill="#000"/>
<text transform="translate(158.50,439.50) scale(0.95,1)" x="0" y="0" font-size="10.5" text-anchor="middle" fill="#000">B</text>
<text transform="translate(158.50,451.60) scale(0.95,1)" x="0" y="0" font-size="10.5" text-anchor="middle" fill="#000">A</text>
<text transform="translate(158.50,463.70) scale(0.95,1)" x="0" y="0" font-size="10.5" text-anchor="middle" fill="#000">N</text>
<text transform="translate(158.50,475.80) scale(0.95,1)" x="0" y="0" font-size="10.5" text-anchor="middle" fill="#000">K</text>
<text transform="translate(158.50,487.90) scale(0.95,1)" x="0" y="0" font-size="10.5" text-anchor="middle" fill="#000">1</text>
<rect x="170" y="327" width="13" height="257" fill="#000"/>
<rect x="171" y="329" width="3" height="4" fill="#fff"/>
<rect x="175" y="329" width="4" height="4" fill="#fff"/>
<rect x="180" y="329" width="2" height="4" fill="#fff"/>
<rect x="171" y="578" width="3" height="5" fill="#fff"/>
<rect x="175" y="578" width="4" height="5" fill="#fff"/>
<rect x="180" y="578" width="2" height="5" fill="#fff"/>
<rect x="171" y="336" width="2" height="6" fill="#fff"/>
<rect x="171" y="569" width="2" height="6" fill="#fff"/>
<rect x="171" y="339" width="4" height="3" fill="#fff"/>
<rect x="171" y="569" width="4" height="3" fill="#fff"/>
<rect x="175" y="337" width="4" height="6" fill="#fff"/>
<rect x="175" y="568" width="4" height="6" fill="#fff"/>
<rect x="171" y="343" width="3" height="4" fill="#fff"/>
<rect x="171" y="564" width="3" height="4" fill="#fff"/>
<rect x="174" y="344" width="7" height="2" fill="#fff"/>
<rect x="174" y="565" width="7" height="2" fill="#fff"/>
<rect x="181" y="334" width="1" height="242" fill="#fff"/>
<rect x="171" y="347" width="1" height="217" fill="#fff"/>
<rect x="176" y="349" width="4" height="1" fill="#fff"/>
<rect x="176" y="351" width="4" height="1" fill="#fff"/>
<rect x="176" y="353" width="4" height="1" fill="#fff"/>
<rect x="176" y="355" width="4" height="1" fill="#fff"/>
<rect x="176" y="359" width="4" height="1" fill="#fff"/>
<rect x="176" y="366" width="4" height="1" fill="#fff"/>
<rect x="176" y="368" width="4" height="1" fill="#fff"/>
<rect x="176" y="370" width="4" height="1" fill="#fff"/>
<rect x="176" y="372" width="4" height="1" fill="#fff"/>
<rect x="176" y="383" width="4" height="1" fill="#fff"/>
<rect x="176" y="385" width="4" height="1" fill="#fff"/>
<rect x="176" y="387" width="4" height="1" fill="#fff"/>
<rect x="176" y="396" width="4" height="1" fill="#fff"/>
<rect x="176" y="398" width="4" height="1" fill="#fff"/>
<rect x="176" y="400" width="4" height="1" fill="#fff"/>
<rect x="176" y="402" width="4" height="1" fill="#fff"/>
<rect x="176" y="404" width="4" height="1" fill="#fff"/>
<rect x="176" y="406" width="4" height="1" fill="#fff"/>
<rect x="176" y="408" width="4" height="1" fill="#fff"/>
<rect x="176" y="410" width="4" height="1" fill="#fff"/>
<rect x="176" y="412" width="4" height="1" fill="#fff"/>
<rect x="176" y="414" width="4" height="1" fill="#fff"/>
<rect x="176" y="416" width="4" height="1" fill="#fff"/>
<rect x="176" y="418" width="4" height="1" fill="#fff"/>
<rect x="176" y="420" width="4" height="1" fill="#fff"/>
<rect x="176" y="428" width="4" height="1" fill="#fff"/>
<rect x="176" y="494" width="4" height="1" fill="#fff"/>
<rect x="176" y="496" width="4" height="1" fill="#fff"/>
<rect x="176" y="498" width="4" height="1" fill="#fff"/>
<rect x="176" y="500" width="4" height="1" fill="#fff"/>
<rect x="176" y="502" width="4" height="1" fill="#fff"/>
<rect x="176" y="504" width="4" height="1" fill="#fff"/>
<rect x="176" y="509" width="4" height="1" fill="#fff"/>
<rect x="176" y="511" width="4" height="1" fill="#fff"/>
<rect x="176" y="513" width="4" height="1" fill="#fff"/>
<rect x="176" y="515" width="4" height="1" fill="#fff"/>
<rect x="176" y="517" width="4" height="1" fill="#fff"/>
<rect x="176" y="519" width="4" height="1" fill="#fff"/>
<rect x="176" y="524" width="4" height="1" fill="#fff"/>
<rect x="176" y="526" width="4" height="1" fill="#fff"/>
<rect x="176" y="528" width="4" height="1" fill="#fff"/>
<rect x="176" y="543" width="4" height="1" fill="#fff"/>
<rect x="176" y="545" width="4" height="1" fill="#fff"/>
<rect x="176" y="547" width="4" height="1" fill="#fff"/>
<rect x="176" y="549" width="4" height="1" fill="#fff"/>
<rect x="176" y="551" width="4" height="1" fill="#fff"/>
<rect x="176" y="560" width="4" height="1" fill="#fff"/>
<rect x="176" y="562" width="4" height="1" fill="#fff"/>
<rect x="176" y="564" width="4" height="1" fill="#fff"/>
<rect x="172" y="531" width="9" height="1" fill="#fff"/>
<rect x="172" y="535" width="9" height="1" fill="#fff"/>
<rect x="169" y="431" width="15" height="60" fill="#fff"/>
<rect x="169" y="431" width="15" height="2" fill="#000"/>
<rect x="169" y="489" width="15" height="2" fill="#000"/>
<rect x="169" y="431" width="2" height="60" fill="#000"/>
<rect x="182" y="431" width="2" height="60" fill="#000"/>
<text transform="translate(176.50,439.50) scale(0.95,1)" x="0" y="0" font-size="10.5" text-anchor="middle" fill="#000">B</text>
<text transform="translate(176.50,451.60) scale(0.95,1)" x="0" y="0" font-size="10.5" text-anchor="middle" fill="#000">A</text>
<text transform="translate(176.50,463.70) scale(0.95,1)" x="0" y="0" font-size="10.5" text-anchor="middle" fill="#000">N</text>
<text transform="translate(176.50,475.80) scale(0.95,1)" x="0" y="0" font-size="10.5" text-anchor="middle" fill="#000">K</text>
<text transform="translate(176.50,487.90) scale(0.95,1)" x="0" y="0" font-size="10.5" text-anchor="middle" fill="#000">2</text>
<rect x="188" y="328" width="13" height="257" fill="#000"/>
<rect x="189" y="330" width="3" height="4" fill="#fff"/>
<rect x="193" y="330" width="4" height="4" fill="#fff"/>
<rect x="198" y="330" width="2" height="4" fill="#fff"/>
<rect x="189" y="579" width="3" height="5" fill="#fff"/>
<rect x="193" y="579" width="4" height="5" fill="#fff"/>
<rect x="198" y="579" width="2" height="5" fill="#fff"/>
<rect x="189" y="337" width="2" height="6" fill="#fff"/>
<rect x="189" y="570" width="2" height="6" fill="#fff"/>
<rect x="189" y="340" width="4" height="3" fill="#fff"/>
<rect x="189" y="570" width="4" height="3" fill="#fff"/>
<rect x="193" y="338" width="4" height="6" fill="#fff"/>
<rect x="193" y="569" width="4" height="6" fill="#fff"/>
<rect x="189" y="344" width="3" height="4" fill="#fff"/>
<rect x="189" y="565" width="3" height="4" fill="#fff"/>
<rect x="192" y="345" width="7" height="2" fill="#fff"/>
<rect x="192" y="566" width="7" height="2" fill="#fff"/>
<rect x="199" y="335" width="1" height="242" fill="#fff"/>
<rect x="189" y="348" width="1" height="217" fill="#fff"/>
<rect x="194" y="349" width="4" height="1" fill="#fff"/>
<rect x="194" y="351" width="4" height="1" fill="#fff"/>
<rect x="194" y="353" width="4" height="1" fill="#fff"/>
<rect x="194" y="355" width="4" height="1" fill="#fff"/>
<rect x="194" y="359" width="4" height="1" fill="#fff"/>
<rect x="194" y="366" width="4" height="1" fill="#fff"/>
<rect x="194" y="368" width="4" height="1" fill="#fff"/>
<rect x="194" y="370" width="4" height="1" fill="#fff"/>
<rect x="194" y="372" width="4" height="1" fill="#fff"/>
<rect x="194" y="383" width="4" height="1" fill="#fff"/>
<rect x="194" y="385" width="4" height="1" fill="#fff"/>
<rect x="194" y="387" width="4" height="1" fill="#fff"/>
<rect x="194" y="396" width="4" height="1" fill="#fff"/>
<rect x="194" y="398" width="4" height="1" fill="#fff"/>
<rect x="194" y="400" width="4" height="1" fill="#fff"/>
<rect x="194" y="402" width="4" height="1" fill="#fff"/>
<rect x="194" y="404" width="4" height="1" fill="#fff"/>
<rect x="194" y="406" width="4" height="1" fill="#fff"/>
<rect x="194" y="408" width="4" height="1" fill="#fff"/>
<rect x="194" y="410" width="4" height="1" fill="#fff"/>
<rect x="194" y="412" width="4" height="1" fill="#fff"/>
<rect x="194" y="414" width="4" height="1" fill="#fff"/>
<rect x="194" y="416" width="4" height="1" fill="#fff"/>
<rect x="194" y="418" width="4" height="1" fill="#fff"/>
<rect x="194" y="420" width="4" height="1" fill="#fff"/>
<rect x="194" y="428" width="4" height="1" fill="#fff"/>
<rect x="194" y="494" width="4" height="1" fill="#fff"/>
<rect x="194" y="496" width="4" height="1" fill="#fff"/>
<rect x="194" y="498" width="4" height="1" fill="#fff"/>
<rect x="194" y="500" width="4" height="1" fill="#fff"/>
<rect x="194" y="502" width="4" height="1" fill="#fff"/>
<rect x="194" y="504" width="4" height="1" fill="#fff"/>
<rect x="194" y="509" width="4" height="1" fill="#fff"/>
<rect x="194" y="511" width="4" height="1" fill="#fff"/>
<rect x="194" y="513" width="4" height="1" fill="#fff"/>
<rect x="194" y="515" width="4" height="1" fill="#fff"/>
<rect x="194" y="517" width="4" height="1" fill="#fff"/>
<rect x="194" y="519" width="4" height="1" fill="#fff"/>
<rect x="194" y="524" width="4" height="1" fill="#fff"/>
<rect x="194" y="526" width="4" height="1" fill="#fff"/>
<rect x="194" y="528" width="4" height="1" fill="#fff"/>
<rect x="194" y="543" width="4" height="1" fill="#fff"/>
<rect x="194" y="545" width="4" height="1" fill="#fff"/>
<rect x="194" y="547" width="4" height="1" fill="#fff"/>
<rect x="194" y="549" width="4" height="1" fill="#fff"/>
<rect x="194" y="551" width="4" height="1" fill="#fff"/>
<rect x="194" y="560" width="4" height="1" fill="#fff"/>
<rect x="194" y="562" width="4" height="1" fill="#fff"/>
<rect x="194" y="564" width="4" height="1" fill="#fff"/>
<rect x="190" y="531" width="9" height="1" fill="#fff"/>
<rect x="190" y="535" width="9" height="1" fill="#fff"/>
<rect x="187" y="431" width="15" height="60" fill="#fff"/>
<rect x="187" y="431" width="15" height="2" fill="#000"/>
<rect x="187" y="489" width="15" height="2" fill="#000"/>
<rect x="187" y="431" width="2" height="60" fill="#000"/>
<rect x="200" y="431" width="2" height="60" fill="#000"/>
<text transform="translate(194.50,439.50) scale(0.95,1)" x="0" y="0" font-size="10.5" text-anchor="middle" fill="#000">B</text>
<text transform="translate(194.50,451.60) scale(0.95,1)" x="0" y="0" font-size="10.5" text-anchor="middle" fill="#000">A</text>
<text transform="translate(194.50,463.70) scale(0.95,1)" x="0" y="0" font-size="10.5" text-anchor="middle" fill="#000">N</text>
<text transform="translate(194.50,475.80) scale(0.95,1)" x="0" y="0" font-size="10.5" text-anchor="middle" fill="#000">K</text>
<text transform="translate(194.50,487.90) scale(0.95,1)" x="0" y="0" font-size="10.5" text-anchor="middle" fill="#000">3</text>
<rect x="19" y="229" width="96" height="10" fill="#000"/>
<rect x="20" y="234" width="94" height="1" fill="#fff"/>
<rect x="21" y="230" width="1" height="8" fill="#fff"/>
<rect x="25" y="230" width="1" height="8" fill="#fff"/>
<rect x="30" y="230" width="1" height="8" fill="#fff"/>
<rect x="34" y="230" width="1" height="8" fill="#fff"/>
<rect x="39" y="230" width="1" height="8" fill="#fff"/>
<rect x="48" y="230" width="1" height="8" fill="#fff"/>
<rect x="53" y="230" width="1" height="8" fill="#fff"/>
<rect x="58" y="230" width="1" height="8" fill="#fff"/>
<rect x="62" y="230" width="1" height="8" fill="#fff"/>
<rect x="67" y="230" width="1" height="8" fill="#fff"/>
<rect x="72" y="230" width="1" height="8" fill="#fff"/>
<rect x="77" y="230" width="1" height="8" fill="#fff"/>
<rect x="81" y="230" width="1" height="8" fill="#fff"/>
<rect x="86" y="230" width="1" height="8" fill="#fff"/>
<rect x="91" y="230" width="1" height="8" fill="#fff"/>
<rect x="95" y="230" width="1" height="8" fill="#fff"/>
<rect x="100" y="230" width="1" height="8" fill="#fff"/>
<rect x="110" y="230" width="1" height="8" fill="#fff"/>
<rect x="111" y="231" width="2" height="2" fill="#fff"/>
<rect x="19" y="246" width="96" height="11" fill="#000"/>
<rect x="20" y="247" width="20" height="1" fill="#fff"/>
<rect x="48" y="247" width="66" height="1" fill="#fff"/>
<rect x="20" y="251" width="94" height="1" fill="#fff"/>
<rect x="21" y="247" width="1" height="9" fill="#fff"/>
<rect x="25" y="247" width="1" height="9" fill="#fff"/>
<rect x="30" y="247" width="1" height="9" fill="#fff"/>
<rect x="34" y="247" width="1" height="9" fill="#fff"/>
<rect x="39" y="247" width="1" height="9" fill="#fff"/>
<rect x="48" y="247" width="1" height="9" fill="#fff"/>
<rect x="53" y="247" width="1" height="9" fill="#fff"/>
<rect x="58" y="247" width="1" height="9" fill="#fff"/>
<rect x="62" y="247" width="1" height="9" fill="#fff"/>
<rect x="67" y="247" width="1" height="9" fill="#fff"/>
<rect x="72" y="247" width="1" height="9" fill="#fff"/>
<rect x="77" y="247" width="1" height="9" fill="#fff"/>
<rect x="81" y="247" width="1" height="9" fill="#fff"/>
<rect x="86" y="247" width="1" height="9" fill="#fff"/>
<rect x="91" y="247" width="1" height="9" fill="#fff"/>
<rect x="95" y="247" width="1" height="9" fill="#fff"/>
<rect x="100" y="247" width="1" height="9" fill="#fff"/>
<rect x="105" y="247" width="1" height="9" fill="#fff"/>
<rect x="110" y="247" width="1" height="9" fill="#fff"/>
<rect x="111" y="249" width="2" height="1" fill="#fff"/>
<rect x="57" y="293" width="10" height="81" fill="#000"/>
<rect x="58" y="298" width="8" height="1" fill="#fff"/>
<rect x="58" y="307" width="8" height="1" fill="#fff"/>
<rect x="58" y="312" width="8" height="1" fill="#fff"/>
<rect x="58" y="321" width="8" height="1" fill="#fff"/>
<rect x="58" y="326" width="8" height="1" fill="#fff"/>
<rect x="58" y="330" width="8" height="1" fill="#fff"/>
<rect x="58" y="335" width="8" height="1" fill="#fff"/>
<rect x="58" y="340" width="8" height="1" fill="#fff"/>
<rect x="58" y="349" width="8" height="1" fill="#fff"/>
<rect x="58" y="354" width="8" height="1" fill="#fff"/>
<rect x="58" y="359" width="8" height="1" fill="#fff"/>
<rect x="58" y="363" width="8" height="1" fill="#fff"/>
<rect x="58" y="368" width="8" height="1" fill="#fff"/>
<rect x="58" y="331" width="8" height="1" fill="#fff"/>
<rect x="63" y="370" width="2" height="2" fill="#fff"/>
<rect x="57" y="398" width="10" height="118" fill="#000"/>
<rect x="61" y="399" width="1" height="116" fill="#fff"/>
<rect x="58" y="399" width="8" height="1" fill="#fff"/>
<rect x="58" y="404" width="8" height="1" fill="#fff"/>
<rect x="58" y="408" width="8" height="1" fill="#fff"/>
<rect x="58" y="413" width="8" height="1" fill="#fff"/>
<rect x="58" y="418" width="8" height="1" fill="#fff"/>
<rect x="58" y="422" width="8" height="1" fill="#fff"/>
<rect x="58" y="426" width="8" height="1" fill="#fff"/>
<rect x="58" y="431" width="8" height="1" fill="#fff"/>
<rect x="58" y="436" width="8" height="1" fill="#fff"/>
<rect x="58" y="440" width="8" height="1" fill="#fff"/>
<rect x="58" y="445" width="8" height="1" fill="#fff"/>
<rect x="58" y="449" width="8" height="1" fill="#fff"/>
<rect x="58" y="454" width="8" height="1" fill="#fff"/>
<rect x="58" y="459" width="8" height="1" fill="#fff"/>
<rect x="58" y="468" width="8" height="1" fill="#fff"/>
<rect x="58" y="473" width="8" height="1" fill="#fff"/>
<rect x="58" y="478" width="8" height="1" fill="#fff"/>
<rect x="58" y="482" width="8" height="1" fill="#fff"/>
<rect x="58" y="487" width="8" height="1" fill="#fff"/>
<rect x="58" y="492" width="8" height="1" fill="#fff"/>
<rect x="58" y="496" width="8" height="1" fill="#fff"/>
<rect x="58" y="501" width="8" height="1" fill="#fff"/>
<rect x="58" y="506" width="8" height="1" fill="#fff"/>
<rect x="58" y="510" width="8" height="1" fill="#fff"/>
<rect x="63" y="512" width="2" height="2" fill="#fff"/>
<rect x="82" y="292" width="15" height="1" fill="#000"/>
<rect x="82" y="404" width="15" height="1" fill="#000"/>
<rect x="82" y="292" width="1" height="113" fill="#000"/>
<rect x="96" y="292" width="1" height="113" fill="#000"/>
<rect x="82" y="305" width="2" height="100" fill="#000"/>
<rect x="95" y="303" width="2" height="102" fill="#000"/>
<rect x="82" y="403" width="15" height="2" fill="#000"/>
<rect x="87" y="306" width="5" height="86" fill="#000"/>
<rect x="90" y="307" width="1" height="2" fill="#fff"/>
<rect x="87" y="307" width="1" height="2" fill="#fff"/>
<rect x="90" y="310" width="1" height="2" fill="#fff"/>
<rect x="87" y="310" width="1" height="2" fill="#fff"/>
<rect x="90" y="314" width="1" height="2" fill="#fff"/>
<rect x="87" y="314" width="1" height="2" fill="#fff"/>
<rect x="90" y="317" width="1" height="2" fill="#fff"/>
<rect x="87" y="317" width="1" height="2" fill="#fff"/>
<rect x="90" y="320" width="1" height="2" fill="#fff"/>
<rect x="87" y="320" width="1" height="2" fill="#fff"/>
<rect x="90" y="324" width="1" height="2" fill="#fff"/>
<rect x="87" y="324" width="1" height="2" fill="#fff"/>
<rect x="90" y="327" width="1" height="2" fill="#fff"/>
<rect x="87" y="327" width="1" height="2" fill="#fff"/>
<rect x="90" y="330" width="1" height="2" fill="#fff"/>
<rect x="87" y="330" width="1" height="2" fill="#fff"/>
<rect x="90" y="333" width="1" height="2" fill="#fff"/>
<rect x="87" y="333" width="1" height="2" fill="#fff"/>
<rect x="90" y="337" width="1" height="2" fill="#fff"/>
<rect x="87" y="337" width="1" height="2" fill="#fff"/>
<rect x="90" y="340" width="1" height="2" fill="#fff"/>
<rect x="87" y="340" width="1" height="2" fill="#fff"/>
<rect x="90" y="343" width="1" height="2" fill="#fff"/>
<rect x="87" y="343" width="1" height="2" fill="#fff"/>
<rect x="90" y="347" width="1" height="2" fill="#fff"/>
<rect x="87" y="347" width="1" height="2" fill="#fff"/>
<rect x="90" y="350" width="1" height="2" fill="#fff"/>
<rect x="87" y="350" width="1" height="2" fill="#fff"/>
<rect x="90" y="353" width="1" height="2" fill="#fff"/>
<rect x="87" y="353" width="1" height="2" fill="#fff"/>
<rect x="90" y="356" width="1" height="2" fill="#fff"/>
<rect x="87" y="356" width="1" height="2" fill="#fff"/>
<rect x="90" y="360" width="1" height="2" fill="#fff"/>
<rect x="87" y="360" width="1" height="2" fill="#fff"/>
<rect x="90" y="363" width="1" height="2" fill="#fff"/>
<rect x="87" y="363" width="1" height="2" fill="#fff"/>
<rect x="90" y="366" width="1" height="2" fill="#fff"/>
<rect x="87" y="366" width="1" height="2" fill="#fff"/>
<rect x="90" y="370" width="1" height="2" fill="#fff"/>
<rect x="87" y="370" width="1" height="2" fill="#fff"/>
<rect x="90" y="373" width="1" height="2" fill="#fff"/>
<rect x="87" y="373" width="1" height="2" fill="#fff"/>
<rect x="90" y="376" width="1" height="2" fill="#fff"/>
<rect x="87" y="376" width="1" height="2" fill="#fff"/>
<rect x="90" y="380" width="1" height="2" fill="#fff"/>
<rect x="87" y="380" width="1" height="2" fill="#fff"/>
<rect x="90" y="383" width="1" height="2" fill="#fff"/>
<rect x="87" y="383" width="1" height="2" fill="#fff"/>
<rect x="90" y="386" width="1" height="2" fill="#fff"/>
<rect x="87" y="386" width="1" height="2" fill="#fff"/>
<rect x="90" y="390" width="1" height="2" fill="#fff"/>
<rect x="87" y="390" width="1" height="2" fill="#fff"/>
<polyline points="86.0,294.5 93.5,294.5 95.2,296.5 92.8,299.0 92.8,300.8 95.0,303.0" fill="none" stroke="#000" stroke-width="1.15" shape-rendering="auto"/>
<polyline points="84.5,295.5 87.5,298.5 87.0,300.5 85.8,301.2" fill="none" stroke="#000" stroke-width="1.15" shape-rendering="auto"/>
<rect x="84" y="295" width="2" height="2" fill="#000"/>
<polyline points="83.5,304.6 86.5,304.6 89.0,303.5 92.0,302.8" fill="none" stroke="#000" stroke-width="1.15" shape-rendering="auto"/>
<polyline points="83.5,392.4 86.5,392.4 89.0,393.5 92.0,394.6 95.0,396.4" fill="none" stroke="#000" stroke-width="1.15" shape-rendering="auto"/>
<polyline points="87.5,397.0 85.5,399.5 87.5,401.0 85.5,402.5" fill="none" stroke="#000" stroke-width="1.15" shape-rendering="auto"/>
<polyline points="93.5,397.5 91.5,399.5 93.5,401.5 91.5,402.8" fill="none" stroke="#000" stroke-width="1.15" shape-rendering="auto"/>
<rect x="81" y="410" width="15" height="1" fill="#000"/>
<rect x="81" y="522" width="15" height="1" fill="#000"/>
<rect x="81" y="410" width="1" height="113" fill="#000"/>
<rect x="95" y="410" width="1" height="113" fill="#000"/>
<rect x="81" y="423" width="2" height="100" fill="#000"/>
<rect x="94" y="421" width="2" height="102" fill="#000"/>
<rect x="81" y="521" width="15" height="2" fill="#000"/>
<rect x="86" y="424" width="5" height="85" fill="#000"/>
<rect x="89" y="425" width="1" height="2" fill="#fff"/>
<rect x="86" y="425" width="1" height="2" fill="#fff"/>
<rect x="89" y="428" width="1" height="2" fill="#fff"/>
<rect x="86" y="428" width="1" height="2" fill="#fff"/>
<rect x="89" y="432" width="1" height="2" fill="#fff"/>
<rect x="86" y="432" width="1" height="2" fill="#fff"/>
<rect x="89" y="435" width="1" height="2" fill="#fff"/>
<rect x="86" y="435" width="1" height="2" fill="#fff"/>
<rect x="89" y="438" width="1" height="2" fill="#fff"/>
<rect x="86" y="438" width="1" height="2" fill="#fff"/>
<rect x="89" y="442" width="1" height="2" fill="#fff"/>
<rect x="86" y="442" width="1" height="2" fill="#fff"/>
<rect x="89" y="445" width="1" height="2" fill="#fff"/>
<rect x="86" y="445" width="1" height="2" fill="#fff"/>
<rect x="89" y="448" width="1" height="2" fill="#fff"/>
<rect x="86" y="448" width="1" height="2" fill="#fff"/>
<rect x="89" y="451" width="1" height="2" fill="#fff"/>
<rect x="86" y="451" width="1" height="2" fill="#fff"/>
<rect x="89" y="455" width="1" height="2" fill="#fff"/>
<rect x="86" y="455" width="1" height="2" fill="#fff"/>
<rect x="89" y="458" width="1" height="2" fill="#fff"/>
<rect x="86" y="458" width="1" height="2" fill="#fff"/>
<rect x="89" y="461" width="1" height="2" fill="#fff"/>
<rect x="86" y="461" width="1" height="2" fill="#fff"/>
<rect x="89" y="465" width="1" height="2" fill="#fff"/>
<rect x="86" y="465" width="1" height="2" fill="#fff"/>
<rect x="89" y="468" width="1" height="2" fill="#fff"/>
<rect x="86" y="468" width="1" height="2" fill="#fff"/>
<rect x="89" y="471" width="1" height="2" fill="#fff"/>
<rect x="86" y="471" width="1" height="2" fill="#fff"/>
<rect x="89" y="474" width="1" height="2" fill="#fff"/>
<rect x="86" y="474" width="1" height="2" fill="#fff"/>
<rect x="89" y="478" width="1" height="2" fill="#fff"/>
<rect x="86" y="478" width="1" height="2" fill="#fff"/>
<rect x="89" y="481" width="1" height="2" fill="#fff"/>
<rect x="86" y="481" width="1" height="2" fill="#fff"/>
<rect x="89" y="484" width="1" height="2" fill="#fff"/>
<rect x="86" y="484" width="1" height="2" fill="#fff"/>
<rect x="89" y="488" width="1" height="2" fill="#fff"/>
<rect x="86" y="488" width="1" height="2" fill="#fff"/>
<rect x="89" y="491" width="1" height="2" fill="#fff"/>
<rect x="86" y="491" width="1" height="2" fill="#fff"/>
<rect x="89" y="494" width="1" height="2" fill="#fff"/>
<rect x="86" y="494" width="1" height="2" fill="#fff"/>
<rect x="89" y="498" width="1" height="2" fill="#fff"/>
<rect x="86" y="498" width="1" height="2" fill="#fff"/>
<rect x="89" y="501" width="1" height="2" fill="#fff"/>
<rect x="86" y="501" width="1" height="2" fill="#fff"/>
<rect x="89" y="504" width="1" height="2" fill="#fff"/>
<rect x="86" y="504" width="1" height="2" fill="#fff"/>
<polyline points="85.0,412.5 92.5,412.5 94.2,414.5 91.8,417.0 91.8,418.8 94.0,421.0" fill="none" stroke="#000" stroke-width="1.15" shape-rendering="auto"/>
<polyline points="83.5,413.5 86.5,416.5 86.0,418.5 84.8,419.2" fill="none" stroke="#000" stroke-width="1.15" shape-rendering="auto"/>
<rect x="83" y="413" width="2" height="2" fill="#000"/>
<polyline points="82.5,422.6 85.5,422.6 88.0,421.5 91.0,420.8" fill="none" stroke="#000" stroke-width="1.15" shape-rendering="auto"/>
<polyline points="82.5,510.4 85.5,510.4 88.0,511.5 91.0,512.6 94.0,514.4" fill="none" stroke="#000" stroke-width="1.15" shape-rendering="auto"/>
<polyline points="86.5,515.0 84.5,517.5 86.5,519.0 84.5,520.5" fill="none" stroke="#000" stroke-width="1.15" shape-rendering="auto"/>
<polyline points="92.5,515.5 90.5,517.5 92.5,519.5 90.5,520.8" fill="none" stroke="#000" stroke-width="1.15" shape-rendering="auto"/>
<rect x="48" y="31" width="12" height="6" fill="#000"/>
<rect x="53" y="32" width="1" height="4" fill="#fff"/>
<rect x="57" y="32" width="1" height="4" fill="#fff"/>
<rect x="47" y="39" width="20" height="6" fill="#000"/>
<rect x="52" y="40" width="1" height="4" fill="#fff"/>
<rect x="57" y="40" width="1" height="4" fill="#fff"/>
<rect x="63" y="41" width="2" height="2" fill="#fff"/>
<rect x="70" y="31" width="12" height="6" fill="#000"/>
<rect x="74" y="32" width="1" height="4" fill="#fff"/>
<rect x="78" y="32" width="1" height="4" fill="#fff"/>
<rect x="70" y="39" width="24" height="6" fill="#000"/>
<rect x="79" y="40" width="1" height="4" fill="#fff"/>
<rect x="84" y="40" width="1" height="4" fill="#fff"/>
<rect x="88" y="40" width="1" height="4" fill="#fff"/>
<rect x="90" y="41" width="2" height="2" fill="#fff"/>
<rect x="94" y="31" width="24" height="6" fill="#000"/>
<rect x="98" y="32" width="1" height="4" fill="#fff"/>
<rect x="102" y="32" width="1" height="4" fill="#fff"/>
<rect x="107" y="32" width="1" height="4" fill="#fff"/>
<rect x="112" y="32" width="1" height="4" fill="#fff"/>
<rect x="114" y="33" width="2" height="2" fill="#fff"/>
<rect x="98" y="39" width="20" height="6" fill="#000"/>
<rect x="102" y="40" width="1" height="4" fill="#fff"/>
<rect x="107" y="40" width="1" height="4" fill="#fff"/>
<rect x="112" y="40" width="1" height="4" fill="#fff"/>
<rect x="114" y="41" width="2" height="2" fill="#fff"/>
<rect x="47" y="78" width="19" height="1" fill="#000"/>
<rect x="47" y="110" width="19" height="1" fill="#000"/>
<rect x="46" y="80" width="1" height="6" fill="#000"/>
<rect x="47" y="86" width="1" height="6" fill="#000"/>
<rect x="46" y="92" width="1" height="5" fill="#000"/>
<rect x="47" y="97" width="1" height="6" fill="#000"/>
<rect x="46" y="103" width="1" height="5" fill="#000"/>
<rect x="47" y="108" width="1" height="2" fill="#000"/>
<rect x="47" y="78" width="1" height="2" fill="#000"/>
<rect x="66" y="79" width="1" height="1" fill="#000"/>
<rect x="67" y="80" width="1" height="4" fill="#000"/>
<rect x="66" y="84" width="1" height="9" fill="#000"/>
<rect x="67" y="93" width="1" height="3" fill="#000"/>
<rect x="66" y="96" width="1" height="10" fill="#000"/>
<rect x="67" y="106" width="1" height="2" fill="#000"/>
<rect x="66" y="108" width="1" height="2" fill="#000"/>
<rect x="89" y="120" width="6" height="12" fill="#000"/>
<rect x="90" y="125" width="4" height="1" fill="#fff"/>
<rect x="90" y="130" width="4" height="1" fill="#fff"/>
<rect x="123" y="122" width="6" height="12" fill="#000"/>
<rect x="124" y="127" width="4" height="1" fill="#fff"/>
<rect x="124" y="132" width="4" height="1" fill="#fff"/>
<rect x="72" y="119" width="6" height="21" fill="#000"/>
<rect x="73" y="120" width="4" height="1" fill="#fff"/>
<rect x="73" y="124" width="4" height="1" fill="#fff"/>
<rect x="73" y="129" width="4" height="1" fill="#fff"/>
<rect x="73" y="134" width="4" height="1" fill="#fff"/>
<rect x="73" y="138" width="4" height="1" fill="#fff"/>
<rect x="74" y="122" width="2" height="1" fill="#fff"/>
<rect x="80" y="120" width="6" height="16" fill="#000"/>
<rect x="82" y="122" width="2" height="2" fill="#fff"/>
<rect x="81" y="125" width="4" height="1" fill="#fff"/>
<rect x="81" y="130" width="4" height="1" fill="#fff"/>
<rect x="81" y="134" width="4" height="1" fill="#fff"/>
<rect x="180" y="116" width="13" height="6" fill="#000"/>
<rect x="181" y="117" width="1" height="4" fill="#fff"/>
<rect x="186" y="117" width="1" height="4" fill="#fff"/>
<rect x="191" y="117" width="1" height="4" fill="#fff"/>
<rect x="195" y="145" width="13" height="6" fill="#000"/>
<rect x="196" y="146" width="1" height="4" fill="#fff"/>
<rect x="201" y="146" width="1" height="4" fill="#fff"/>
<rect x="206" y="146" width="1" height="4" fill="#fff"/>
<rect x="206" y="281" width="16" height="7" fill="#000"/>
<rect x="207" y="282" width="14" height="1" fill="#fff"/>
<rect x="207" y="282" width="10" height="5" fill="#fff"/>
<rect x="208" y="283" width="3" height="3" fill="#000"/>
<rect x="209" y="284" width="1" height="1" fill="#fff"/>
<rect x="212" y="283" width="4" height="3" fill="#000"/>
<rect x="423" y="175" width="21" height="6" fill="#000"/>
<rect x="425" y="176" width="1" height="4" fill="#fff"/>
<rect x="429" y="176" width="1" height="4" fill="#fff"/>
<rect x="433" y="176" width="1" height="4" fill="#fff"/>
<rect x="438" y="176" width="1" height="4" fill="#fff"/>
<rect x="440" y="177" width="2" height="2" fill="#fff"/>
<rect x="476" y="186" width="6" height="12" fill="#000"/>
<rect x="477" y="191" width="4" height="1" fill="#fff"/>
<rect x="477" y="196" width="4" height="1" fill="#fff"/>
<rect x="52" y="265" width="6" height="13" fill="#000"/>
<rect x="53" y="266" width="4" height="1" fill="#fff"/>
<rect x="53" y="271" width="4" height="1" fill="#fff"/>
<rect x="53" y="276" width="4" height="1" fill="#fff"/>
<rect x="93" y="276" width="12" height="7" fill="#000"/>
<rect x="94" y="280" width="10" height="1" fill="#fff"/>
<rect x="98" y="278" width="1" height="3" fill="#fff"/>
<rect x="103" y="278" width="1" height="3" fill="#fff"/>
<rect x="415" y="279" width="6" height="13" fill="#000"/>
<rect x="416" y="280" width="4" height="1" fill="#fff"/>
<rect x="416" y="285" width="4" height="1" fill="#fff"/>
<rect x="416" y="290" width="4" height="1" fill="#fff"/>
<rect x="423" y="279" width="6" height="13" fill="#000"/>
<rect x="424" y="280" width="4" height="1" fill="#fff"/>
<rect x="424" y="285" width="4" height="1" fill="#fff"/>
<rect x="424" y="290" width="4" height="1" fill="#fff"/>
<rect x="431" y="279" width="6" height="13" fill="#000"/>
<rect x="432" y="280" width="4" height="1" fill="#fff"/>
<rect x="432" y="285" width="4" height="1" fill="#fff"/>
<rect x="432" y="290" width="4" height="1" fill="#fff"/>
<rect x="439" y="279" width="6" height="13" fill="#000"/>
<rect x="440" y="280" width="4" height="1" fill="#fff"/>
<rect x="440" y="285" width="4" height="1" fill="#fff"/>
<rect x="440" y="290" width="4" height="1" fill="#fff"/>
<rect x="460" y="279" width="16" height="7" fill="#000"/>
<rect x="461" y="280" width="11" height="5" fill="#fff"/>
<rect x="461" y="280" width="14" height="1" fill="#fff"/>
<rect x="462" y="281" width="4" height="3" fill="#000"/>
<rect x="463" y="282" width="2" height="1" fill="#fff"/>
<rect x="467" y="281" width="4" height="3" fill="#000"/>
<rect x="471" y="74" width="30" height="10" fill="#000"/>
<rect x="476" y="75" width="1" height="8" fill="#fff"/>
<rect x="481" y="75" width="1" height="8" fill="#fff"/>
<rect x="485" y="75" width="1" height="8" fill="#fff"/>
<rect x="490" y="75" width="1" height="8" fill="#fff"/>
<rect x="495" y="75" width="1" height="8" fill="#fff"/>
<rect x="499" y="75" width="1" height="8" fill="#fff"/>
<rect x="472" y="79" width="4" height="1" fill="#fff"/>
<rect x="497" y="76" width="1" height="2" fill="#fff"/>
<rect x="209" y="562" width="6" height="16" fill="#000"/>
<rect x="211" y="564" width="2" height="2" fill="#fff"/>
<rect x="210" y="567" width="4" height="1" fill="#fff"/>
<rect x="210" y="572" width="4" height="1" fill="#fff"/>
<rect x="250" y="585" width="17" height="8" fill="#000"/>
<rect x="251" y="586" width="1" height="6" fill="#fff"/>
<rect x="265" y="586" width="1" height="6" fill="#fff"/>
<rect x="256" y="586" width="1" height="4" fill="#fff"/>
<rect x="260" y="586" width="1" height="4" fill="#fff"/>
<rect x="251" y="590" width="15" height="1" fill="#fff"/>
<rect x="251" y="591" width="2" height="1" fill="#fff"/>
<rect x="264" y="591" width="2" height="1" fill="#fff"/>
<rect x="374" y="585" width="17" height="8" fill="#000"/>
<rect x="375" y="586" width="1" height="6" fill="#fff"/>
<rect x="389" y="586" width="1" height="6" fill="#fff"/>
<rect x="380" y="586" width="1" height="4" fill="#fff"/>
<rect x="384" y="586" width="1" height="4" fill="#fff"/>
<rect x="375" y="590" width="15" height="1" fill="#fff"/>
<rect x="375" y="591" width="2" height="1" fill="#fff"/>
<rect x="388" y="591" width="2" height="1" fill="#fff"/>
<rect x="69" y="540" width="6" height="12" fill="#000"/>
<rect x="70" y="545" width="4" height="1" fill="#fff"/>
<rect x="70" y="550" width="4" height="1" fill="#fff"/>
<rect x="69" y="555" width="6" height="12" fill="#000"/>
<rect x="70" y="560" width="4" height="1" fill="#fff"/>
<rect x="70" y="565" width="4" height="1" fill="#fff"/>
<circle cx="55.1" cy="572.3" r="11.3" fill="#000"/>
<rect x="43" y="571" width="2" height="3" fill="#000"/>
<rect x="65" y="571" width="2" height="3" fill="#000"/>
<rect x="76" y="576" width="20" height="1" fill="#000"/>
<rect x="76" y="620" width="20" height="1" fill="#000"/>
<rect x="76" y="576" width="1" height="45" fill="#000"/>
<rect x="95" y="576" width="1" height="45" fill="#000"/>
<rect x="76" y="619" width="20" height="2" fill="#000"/>
<rect x="80" y="576" width="3" height="2" fill="#000"/>
<rect x="79.5" y="581" width="5.5" height="1.3" fill="#000"/>
<rect x="79.5" y="585.2" width="5.5" height="1.3" fill="#000"/>
<rect x="79.5" y="581" width="1.3" height="5.5" fill="#000"/>
<rect x="83.7" y="581" width="1.3" height="5.5" fill="#000"/>
<rect x="79.5" y="588.3" width="5.5" height="1.3" fill="#000"/>
<rect x="79.5" y="592.5" width="5.5" height="1.3" fill="#000"/>
<rect x="79.5" y="588.3" width="1.3" height="5.5" fill="#000"/>
<rect x="83.7" y="588.3" width="1.3" height="5.5" fill="#000"/>
<rect x="79.5" y="595.3" width="5.5" height="1.3" fill="#000"/>
<rect x="79.5" y="599.5" width="5.5" height="1.3" fill="#000"/>
<rect x="79.5" y="595.3" width="1.3" height="5.5" fill="#000"/>
<rect x="83.7" y="595.3" width="1.3" height="5.5" fill="#000"/>
<rect x="79.5" y="602.5" width="5.5" height="1.3" fill="#000"/>
<rect x="79.5" y="606.7" width="5.5" height="1.3" fill="#000"/>
<rect x="79.5" y="602.5" width="1.3" height="5.5" fill="#000"/>
<rect x="83.7" y="602.5" width="1.3" height="5.5" fill="#000"/>
<rect x="79.5" y="610.8" width="5.5" height="1.3" fill="#000"/>
<rect x="79.5" y="615.0" width="5.5" height="1.3" fill="#000"/>
<rect x="79.5" y="610.8" width="1.3" height="5.5" fill="#000"/>
<rect x="83.7" y="610.8" width="1.3" height="5.5" fill="#000"/>
<rect x="86" y="578" width="2" height="39" fill="#000"/>
<rect x="86" y="590" width="2" height="1" fill="#fff"/>
<rect x="86" y="597" width="2" height="1" fill="#fff"/>
<rect x="86" y="604" width="2" height="1" fill="#fff"/>
<rect x="86" y="612" width="2" height="1" fill="#fff"/>
<rect x="89.5" y="578" width="3.5" height="41" fill="#000"/>
<rect x="90.5" y="582" width="1.0" height="6" fill="#fff"/>
<rect x="90.5" y="590" width="2.5" height="1" fill="#fff"/>
<rect x="90.5" y="597" width="2.5" height="1" fill="#fff"/>
<rect x="90.5" y="604" width="2.5" height="1" fill="#fff"/>
<rect x="90.5" y="612" width="2.5" height="1" fill="#fff"/>
<rect x="94" y="577" width="1" height="43" fill="#000"/>
<rect x="459" y="487" width="18" height="1.5" fill="#000"/>
<rect x="459" y="574.5" width="18" height="1.5" fill="#000"/>
<rect x="459" y="487" width="1.5" height="89" fill="#000"/>
<rect x="475.5" y="487" width="1.5" height="89" fill="#000"/>
<rect x="461.5" y="490" width="6.0" height="1.3" fill="#000"/>
<rect x="461.5" y="494.2" width="6.0" height="1.3" fill="#000"/>
<rect x="461.5" y="490" width="1.3" height="5.5" fill="#000"/>
<rect x="466.2" y="490" width="1.3" height="5.5" fill="#000"/>
<rect x="469" y="490" width="6" height="1.3" fill="#000"/>
<rect x="469" y="494.2" width="6" height="1.3" fill="#000"/>
<rect x="469" y="490" width="1.3" height="5.5" fill="#000"/>
<rect x="473.7" y="490" width="1.3" height="5.5" fill="#000"/>
<rect x="461.5" y="498" width="6.0" height="1.3" fill="#000"/>
<rect x="461.5" y="502.2" width="6.0" height="1.3" fill="#000"/>
<rect x="461.5" y="498" width="1.3" height="5.5" fill="#000"/>
<rect x="466.2" y="498" width="1.3" height="5.5" fill="#000"/>
<rect x="469" y="498" width="6" height="1.3" fill="#000"/>
<rect x="469" y="502.2" width="6" height="1.3" fill="#000"/>
<rect x="469" y="498" width="1.3" height="5.5" fill="#000"/>
<rect x="473.7" y="498" width="1.3" height="5.5" fill="#000"/>
<rect x="461.5" y="507" width="6.0" height="1.3" fill="#000"/>
<rect x="461.5" y="511.2" width="6.0" height="1.3" fill="#000"/>
<rect x="461.5" y="507" width="1.3" height="5.5" fill="#000"/>
<rect x="466.2" y="507" width="1.3" height="5.5" fill="#000"/>
<rect x="469" y="507" width="6" height="1.3" fill="#000"/>
<rect x="469" y="511.2" width="6" height="1.3" fill="#000"/>
<rect x="469" y="507" width="1.3" height="5.5" fill="#000"/>
<rect x="473.7" y="507" width="1.3" height="5.5" fill="#000"/>
<rect x="461.5" y="515" width="6.0" height="1.3" fill="#000"/>
<rect x="461.5" y="519.2" width="6.0" height="1.3" fill="#000"/>
<rect x="461.5" y="515" width="1.3" height="5.5" fill="#000"/>
<rect x="466.2" y="515" width="1.3" height="5.5" fill="#000"/>
<rect x="469" y="515" width="6" height="1.3" fill="#000"/>
<rect x="469" y="519.2" width="6" height="1.3" fill="#000"/>
<rect x="469" y="515" width="1.3" height="5.5" fill="#000"/>
<rect x="473.7" y="515" width="1.3" height="5.5" fill="#000"/>
<rect x="461.5" y="525" width="6.0" height="1.3" fill="#000"/>
<rect x="461.5" y="529.2" width="6.0" height="1.3" fill="#000"/>
<rect x="461.5" y="525" width="1.3" height="5.5" fill="#000"/>
<rect x="466.2" y="525" width="1.3" height="5.5" fill="#000"/>
<rect x="469" y="525" width="6" height="1.3" fill="#000"/>
<rect x="469" y="529.2" width="6" height="1.3" fill="#000"/>
<rect x="469" y="525" width="1.3" height="5.5" fill="#000"/>
<rect x="473.7" y="525" width="1.3" height="5.5" fill="#000"/>
<rect x="461.5" y="532" width="6.0" height="1.3" fill="#000"/>
<rect x="461.5" y="536.2" width="6.0" height="1.3" fill="#000"/>
<rect x="461.5" y="532" width="1.3" height="5.5" fill="#000"/>
<rect x="466.2" y="532" width="1.3" height="5.5" fill="#000"/>
<rect x="469" y="532" width="6" height="1.3" fill="#000"/>
<rect x="469" y="536.2" width="6" height="1.3" fill="#000"/>
<rect x="469" y="532" width="1.3" height="5.5" fill="#000"/>
<rect x="473.7" y="532" width="1.3" height="5.5" fill="#000"/>
<rect x="461.5" y="541" width="6.0" height="1.3" fill="#000"/>
<rect x="461.5" y="545.2" width="6.0" height="1.3" fill="#000"/>
<rect x="461.5" y="541" width="1.3" height="5.5" fill="#000"/>
<rect x="466.2" y="541" width="1.3" height="5.5" fill="#000"/>
<rect x="469" y="541" width="6" height="1.3" fill="#000"/>
<rect x="469" y="545.2" width="6" height="1.3" fill="#000"/>
<rect x="469" y="541" width="1.3" height="5.5" fill="#000"/>
<rect x="473.7" y="541" width="1.3" height="5.5" fill="#000"/>
<rect x="461.5" y="549" width="6.0" height="1.3" fill="#000"/>
<rect x="461.5" y="553.2" width="6.0" height="1.3" fill="#000"/>
<rect x="461.5" y="549" width="1.3" height="5.5" fill="#000"/>
<rect x="466.2" y="549" width="1.3" height="5.5" fill="#000"/>
<rect x="469" y="549" width="6" height="1.3" fill="#000"/>
<rect x="469" y="553.2" width="6" height="1.3" fill="#000"/>
<rect x="469" y="549" width="1.3" height="5.5" fill="#000"/>
<rect x="473.7" y="549" width="1.3" height="5.5" fill="#000"/>
<rect x="461.5" y="558" width="6.0" height="1.3" fill="#000"/>
<rect x="461.5" y="562.2" width="6.0" height="1.3" fill="#000"/>
<rect x="461.5" y="558" width="1.3" height="5.5" fill="#000"/>
<rect x="466.2" y="558" width="1.3" height="5.5" fill="#000"/>
<rect x="469" y="558" width="6" height="1.3" fill="#000"/>
<rect x="469" y="562.2" width="6" height="1.3" fill="#000"/>
<rect x="469" y="558" width="1.3" height="5.5" fill="#000"/>
<rect x="473.7" y="558" width="1.3" height="5.5" fill="#000"/>
<rect x="461.5" y="566" width="6.0" height="1.3" fill="#000"/>
<rect x="461.5" y="570.2" width="6.0" height="1.3" fill="#000"/>
<rect x="461.5" y="566" width="1.3" height="5.5" fill="#000"/>
<rect x="466.2" y="566" width="1.3" height="5.5" fill="#000"/>
<rect x="469" y="566" width="6" height="1.3" fill="#000"/>
<rect x="469" y="570.2" width="6" height="1.3" fill="#000"/>
<rect x="469" y="566" width="1.3" height="5.5" fill="#000"/>
<rect x="473.7" y="566" width="1.3" height="5.5" fill="#000"/>
<rect x="517" y="386" width="20" height="101" fill="#000"/>
<rect x="514" y="398" width="23" height="73" fill="#000"/>
<rect x="539" y="378" width="6" height="118" fill="#000"/>
<rect x="531" y="392" width="2" height="3" fill="#fff"/>
<rect x="539" y="392" width="5" height="3" fill="#fff"/>
<rect x="531" y="474" width="2" height="3" fill="#fff"/>
<rect x="539" y="474" width="5" height="3" fill="#fff"/>
<rect x="537" y="380" width="16" height="1" fill="#000"/>
<rect x="537" y="384" width="16" height="1" fill="#000"/>
<rect x="537" y="380" width="1" height="5" fill="#000"/>
<rect x="552" y="380" width="1" height="5" fill="#000"/>
<rect x="539" y="380" width="5" height="5" fill="#000"/>
<rect x="538" y="488" width="15" height="1" fill="#000"/>
<rect x="538" y="492" width="15" height="1" fill="#000"/>
<rect x="538" y="488" width="1" height="5" fill="#000"/>
<rect x="552" y="488" width="1" height="5" fill="#000"/>
<rect x="539" y="488" width="5" height="5" fill="#000"/>
<rect x="544" y="387" width="14" height="1" fill="#000"/>
<rect x="544" y="420" width="14" height="1" fill="#000"/>
<rect x="544" y="387" width="1" height="34" fill="#000"/>
<rect x="557" y="387" width="1" height="34" fill="#000"/>
<rect x="544" y="451" width="15" height="1" fill="#000"/>
<rect x="544" y="484" width="15" height="1" fill="#000"/>
<rect x="544" y="451" width="1" height="34" fill="#000"/>
<rect x="558" y="451" width="1" height="34" fill="#000"/>
<rect x="537" y="398" width="1" height="73" fill="#fff"/>
<rect x="538.5" y="398.5" width="11" height="72" rx="2" fill="#fff" stroke="#000" stroke-width="1"/>
<rect x="549" y="423" width="4" height="1" fill="#000"/>
<rect x="549" y="427" width="4" height="1" fill="#000"/>
<rect x="549" y="423" width="1" height="5" fill="#000"/>
<rect x="552" y="423" width="1" height="5" fill="#000"/>
<rect x="549" y="444" width="4" height="1" fill="#000"/>
<rect x="549" y="449" width="4" height="1" fill="#000"/>
<rect x="549" y="444" width="1" height="6" fill="#000"/>
<rect x="552" y="444" width="1" height="6" fill="#000"/>
<rect x="521" y="429" width="23" height="13" fill="#fff"/>
<text x="532.20" y="439.47" font-size="11.5" text-anchor="middle" fill="#000" textLength="20.4" lengthAdjust="spacingAndGlyphs">J19</text>
<rect x="495" y="521" width="18" height="1" fill="#000"/>
<rect x="495" y="542" width="18" height="1" fill="#000"/>
<rect x="495" y="521" width="1" height="22" fill="#000"/>
<rect x="512" y="521" width="1" height="22" fill="#000"/>
<rect x="513" y="520" width="12" height="1" fill="#000"/>
<rect x="513" y="543" width="12" height="1" fill="#000"/>
<rect x="513" y="520" width="1" height="24" fill="#000"/>
<rect x="524" y="520" width="1" height="24" fill="#000"/>
<rect x="525" y="521" width="9" height="1" fill="#000"/>
<rect x="525" y="542" width="9" height="1" fill="#000"/>
<rect x="525" y="521" width="1" height="22" fill="#000"/>
<rect x="533" y="521" width="1" height="22" fill="#000"/>
<rect x="533" y="520" width="12" height="1" fill="#000"/>
<rect x="533" y="543" width="12" height="1" fill="#000"/>
<rect x="533" y="520" width="1" height="24" fill="#000"/>
<rect x="544" y="520" width="1" height="24" fill="#000"/>
<rect x="521" y="558" width="20" height="1" fill="#000"/>
<rect x="521" y="580" width="20" height="1" fill="#000"/>
<rect x="521" y="558" width="1" height="23" fill="#000"/>
<rect x="540" y="558" width="1" height="23" fill="#000"/>
<rect x="540" y="558" width="5" height="23" fill="#000"/>
<rect x="521" y="587" width="25" height="30" fill="#000"/>
<rect x="540" y="584" width="6" height="37" fill="#000"/>
<rect x="542" y="582" width="4" height="41" fill="#000"/>
<rect x="518" y="592" width="3" height="20" fill="#000"/>
<rect x="515" y="594" width="4" height="7" fill="#fff"/>
<rect x="515" y="594" width="4" height="1" fill="#000"/>
<rect x="515" y="600" width="4" height="1" fill="#000"/>
<rect x="515" y="594" width="1" height="7" fill="#000"/>
<rect x="518" y="594" width="1" height="7" fill="#000"/>
<rect x="515" y="603" width="4" height="7" fill="#fff"/>
<rect x="515" y="603" width="4" height="1" fill="#000"/>
<rect x="515" y="609" width="4" height="1" fill="#000"/>
<rect x="515" y="603" width="1" height="7" fill="#000"/>
<rect x="518" y="603" width="1" height="7" fill="#000"/>
<rect x="520" y="600" width="1" height="4" fill="#fff"/>
<polygon points="35.00,29.80 39.00,31.00 45.00,31.00 45.00,35.00 39.00,35.00 35.00,36.20" fill="#000" shape-rendering="auto"/>
<line x1="44.50" y1="33.00" x2="48.00" y2="34.00" stroke="#000" stroke-width="2.2" shape-rendering="auto"/>
<rect x="3" y="25" width="32" height="16" fill="#000"/>
<rect x="2" y="26" width="34" height="14" fill="#000"/>
<rect x="4" y="27" width="30" height="12" fill="#fff"/>
<polygon points="33.50,31.70 39.80,33.00 33.50,34.30" fill="#fff" shape-rendering="auto"/>
<text x="20.40" y="36.97" font-size="11.5" text-anchor="middle" fill="#000" textLength="26.2" lengthAdjust="spacingAndGlyphs">JF2C</text>
<line x1="69.00" y1="23.00" x2="77.00" y2="31.00" stroke="#000" stroke-width="2.5" shape-rendering="auto"/>
<rect x="38" y="9" width="32" height="16" fill="#000"/>
<rect x="37" y="10" width="34" height="14" fill="#000"/>
<rect x="39" y="11" width="30" height="12" fill="#fff"/>
<text x="53.85" y="20.97" font-size="11.5" text-anchor="middle" fill="#000" textLength="25.1" lengthAdjust="spacingAndGlyphs">JF2B</text>
<line x1="51.00" y1="53.00" x2="59.00" y2="45.00" stroke="#000" stroke-width="2.5" shape-rendering="auto"/>
<rect x="20" y="51" width="32" height="15" fill="#000"/>
<rect x="19" y="52" width="34" height="13" fill="#000"/>
<rect x="21" y="53" width="30" height="11" fill="#fff"/>
<text x="37.00" y="62.47" font-size="11.5" text-anchor="middle" fill="#000" textLength="25.4" lengthAdjust="spacingAndGlyphs">JF2C</text>
<polygon points="76.80,59.00 78.00,55.00 78.00,49.00 82.00,49.00 82.00,55.00 83.20,59.00" fill="#000" shape-rendering="auto"/>
<line x1="80.00" y1="49.50" x2="80.00" y2="45.00" stroke="#000" stroke-width="2.2" shape-rendering="auto"/>
<rect x="64" y="58" width="32" height="15" fill="#000"/>
<rect x="63" y="59" width="34" height="13" fill="#000"/>
<rect x="65" y="60" width="30" height="11" fill="#fff"/>
<polygon points="78.70,60.50 80.00,54.20 81.30,60.50" fill="#fff" shape-rendering="auto"/>
<text x="79.90" y="69.47" font-size="11.5" text-anchor="middle" fill="#000" textLength="25.2" lengthAdjust="spacingAndGlyphs">JF2B</text>
<polygon points="110.20,17.00 109.00,21.00 109.00,27.00 105.00,27.00 105.00,21.00 103.80,17.00" fill="#000" shape-rendering="auto"/>
<line x1="107.00" y1="26.50" x2="107.00" y2="31.00" stroke="#000" stroke-width="2.2" shape-rendering="auto"/>
<rect x="91" y="2" width="33" height="16" fill="#000"/>
<rect x="90" y="3" width="35" height="14" fill="#000"/>
<rect x="92" y="4" width="31" height="12" fill="#fff"/>
<polygon points="108.30,15.50 107.00,21.80 105.70,15.50" fill="#fff" shape-rendering="auto"/>
<text x="109.55" y="13.97" font-size="11.5" text-anchor="middle" fill="#000" textLength="26.3" lengthAdjust="spacingAndGlyphs">JF2A</text>
<line x1="113.00" y1="53.00" x2="104.00" y2="45.00" stroke="#000" stroke-width="2.5" shape-rendering="auto"/>
<rect x="112" y="51" width="32" height="14" fill="#000"/>
<rect x="111" y="52" width="34" height="12" fill="#000"/>
<rect x="113" y="53" width="30" height="10" fill="#fff"/>
<text x="129.65" y="61.97" font-size="11.5" text-anchor="middle" fill="#000" textLength="26.7" lengthAdjust="spacingAndGlyphs">JF1A</text>
<polygon points="457.00,74.80 461.00,76.00 467.00,76.00 467.00,80.00 461.00,80.00 457.00,81.20" fill="#000" shape-rendering="auto"/>
<line x1="466.50" y1="78.00" x2="471.00" y2="78.00" stroke="#000" stroke-width="2.2" shape-rendering="auto"/>
<rect x="431" y="70" width="26" height="16" fill="#000"/>
<rect x="430" y="71" width="28" height="14" fill="#000"/>
<rect x="432" y="72" width="24" height="12" fill="#fff"/>
<polygon points="455.50,76.70 461.80,78.00 455.50,79.30" fill="#fff" shape-rendering="auto"/>
<text x="443.60" y="81.97" font-size="11.5" text-anchor="middle" fill="#000" textLength="20.6" lengthAdjust="spacingAndGlyphs">SBL</text>
<polygon points="94.70,106.00 93.50,110.00 93.50,116.00 89.50,116.00 89.50,110.00 88.30,106.00" fill="#000" shape-rendering="auto"/>
<line x1="91.50" y1="115.50" x2="91.50" y2="120.00" stroke="#000" stroke-width="2.2" shape-rendering="auto"/>
<rect x="79" y="92" width="24" height="15" fill="#000"/>
<rect x="78" y="93" width="26" height="13" fill="#000"/>
<rect x="80" y="94" width="22" height="11" fill="#fff"/>
<polygon points="92.80,104.50 91.50,110.80 90.20,104.50" fill="#fff" shape-rendering="auto"/>
<text x="91.55" y="103.47" font-size="11.5" text-anchor="middle" fill="#000" textLength="18.7" lengthAdjust="spacingAndGlyphs">JA6</text>
<polygon points="128.70,107.00 127.50,111.00 127.50,117.00 123.50,117.00 123.50,111.00 122.30,107.00" fill="#000" shape-rendering="auto"/>
<line x1="125.50" y1="116.50" x2="125.50" y2="122.00" stroke="#000" stroke-width="2.2" shape-rendering="auto"/>
<rect x="107" y="93" width="38" height="15" fill="#000"/>
<rect x="106" y="94" width="40" height="13" fill="#000"/>
<rect x="108" y="95" width="36" height="11" fill="#fff"/>
<polygon points="126.80,105.50 125.50,111.80 124.20,105.50" fill="#fff" shape-rendering="auto"/>
<text x="126.40" y="104.47" font-size="11.5" text-anchor="middle" fill="#000" textLength="34.6" lengthAdjust="spacingAndGlyphs">SCLED</text>
<polygon points="58.00,126.30 62.00,127.50 68.00,127.50 68.00,131.50 62.00,131.50 58.00,132.70" fill="#000" shape-rendering="auto"/>
<line x1="67.50" y1="129.50" x2="72.00" y2="129.00" stroke="#000" stroke-width="2.2" shape-rendering="auto"/>
<rect x="27" y="122" width="31" height="15" fill="#000"/>
<rect x="26" y="123" width="33" height="13" fill="#000"/>
<rect x="28" y="124" width="29" height="11" fill="#fff"/>
<polygon points="56.50,128.20 62.80,129.50 56.50,130.80" fill="#fff" shape-rendering="auto"/>
<text x="42.15" y="133.47" font-size="11.5" text-anchor="middle" fill="#000" textLength="25.5" lengthAdjust="spacingAndGlyphs">JBT2</text>
<line x1="91.00" y1="144.00" x2="84.00" y2="134.00" stroke="#000" stroke-width="2.5" shape-rendering="auto"/>
<rect x="90" y="142" width="31" height="14" fill="#000"/>
<rect x="89" y="143" width="33" height="12" fill="#000"/>
<rect x="91" y="144" width="29" height="10" fill="#fff"/>
<text x="105.20" y="152.97" font-size="11.5" text-anchor="middle" fill="#000" textLength="23.6" lengthAdjust="spacingAndGlyphs">JBT1</text>
<polygon points="189.20,102.00 188.00,106.00 188.00,112.00 184.00,112.00 184.00,106.00 182.80,102.00" fill="#000" shape-rendering="auto"/>
<line x1="186.00" y1="111.50" x2="186.00" y2="116.00" stroke="#000" stroke-width="2.2" shape-rendering="auto"/>
<rect x="170" y="87" width="32" height="16" fill="#000"/>
<rect x="169" y="88" width="34" height="14" fill="#000"/>
<rect x="171" y="89" width="30" height="12" fill="#fff"/>
<polygon points="187.30,100.50 186.00,106.80 184.70,100.50" fill="#fff" shape-rendering="auto"/>
<text x="185.15" y="98.97" font-size="11.5" text-anchor="middle" fill="#000" textLength="25.7" lengthAdjust="spacingAndGlyphs">JP18</text>
<polygon points="197.30,164.00 198.50,160.00 198.50,154.00 202.50,154.00 202.50,160.00 203.70,164.00" fill="#000" shape-rendering="auto"/>
<line x1="200.50" y1="154.50" x2="201.00" y2="151.00" stroke="#000" stroke-width="2.2" shape-rendering="auto"/>
<rect x="188" y="163" width="25" height="16" fill="#000"/>
<rect x="187" y="164" width="27" height="14" fill="#000"/>
<rect x="189" y="165" width="23" height="12" fill="#fff"/>
<polygon points="199.20,165.50 200.50,159.20 201.80,165.50" fill="#fff" shape-rendering="auto"/>
<text x="200.85" y="174.97" font-size="11.5" text-anchor="middle" fill="#000" textLength="23.1" lengthAdjust="spacingAndGlyphs">WOL</text>
<polygon points="408.00,172.80 412.00,174.00 418.00,174.00 418.00,178.00 412.00,178.00 408.00,179.20" fill="#000" shape-rendering="auto"/>
<line x1="417.50" y1="176.00" x2="422.00" y2="177.00" stroke="#000" stroke-width="2.2" shape-rendering="auto"/>
<rect x="383" y="169" width="25" height="14" fill="#000"/>
<rect x="382" y="170" width="27" height="12" fill="#000"/>
<rect x="384" y="171" width="23" height="10" fill="#fff"/>
<polygon points="406.50,174.70 412.80,176.00 406.50,177.30" fill="#fff" shape-rendering="auto"/>
<text x="394.75" y="179.97" font-size="11.5" text-anchor="middle" fill="#000" textLength="20.7" lengthAdjust="spacingAndGlyphs">JTM</text>
<polygon points="495.00,194.70 491.00,193.50 485.00,193.50 485.00,189.50 491.00,189.50 495.00,188.30" fill="#000" shape-rendering="auto"/>
<line x1="485.50" y1="191.50" x2="482.00" y2="191.00" stroke="#000" stroke-width="2.2" shape-rendering="auto"/>
<rect x="495" y="185" width="27" height="13" fill="#000"/>
<rect x="494" y="186" width="29" height="11" fill="#000"/>
<rect x="496" y="187" width="25" height="9" fill="#fff"/>
<polygon points="496.50,192.80 490.20,191.50 496.50,190.20" fill="#fff" shape-rendering="auto"/>
<text x="507.20" y="195.47" font-size="11.5" text-anchor="middle" fill="#000" textLength="18.6" lengthAdjust="spacingAndGlyphs">JL1</text>
<polygon points="128.00,237.20 124.00,236.00 118.00,236.00 118.00,232.00 124.00,232.00 128.00,230.80" fill="#000" shape-rendering="auto"/>
<line x1="118.50" y1="234.00" x2="115.00" y2="234.00" stroke="#000" stroke-width="2.2" shape-rendering="auto"/>
<rect x="128" y="227" width="27" height="14" fill="#000"/>
<rect x="127" y="228" width="29" height="12" fill="#000"/>
<rect x="129" y="229" width="25" height="10" fill="#fff"/>
<polygon points="129.50,235.30 123.20,234.00 129.50,232.70" fill="#fff" shape-rendering="auto"/>
<text x="140.10" y="237.97" font-size="11.5" text-anchor="middle" fill="#000" textLength="17.2" lengthAdjust="spacingAndGlyphs">J16</text>
<polygon points="128.00,254.20 124.00,253.00 118.00,253.00 118.00,249.00 124.00,249.00 128.00,247.80" fill="#000" shape-rendering="auto"/>
<line x1="118.50" y1="251.00" x2="115.00" y2="251.00" stroke="#000" stroke-width="2.2" shape-rendering="auto"/>
<rect x="128" y="244" width="27" height="14" fill="#000"/>
<rect x="127" y="245" width="29" height="12" fill="#000"/>
<rect x="129" y="246" width="25" height="10" fill="#fff"/>
<polygon points="129.50,252.30 123.20,251.00 129.50,249.70" fill="#fff" shape-rendering="auto"/>
<text x="140.45" y="254.97" font-size="11.5" text-anchor="middle" fill="#000" textLength="17.5" lengthAdjust="spacingAndGlyphs">J15</text>
<polygon points="38.00,267.80 42.00,269.00 48.00,269.00 48.00,273.00 42.00,273.00 38.00,274.20" fill="#000" shape-rendering="auto"/>
<line x1="47.50" y1="271.00" x2="53.00" y2="271.00" stroke="#000" stroke-width="2.2" shape-rendering="auto"/>
<rect x="11" y="265" width="27" height="12" fill="#000"/>
<rect x="10" y="266" width="29" height="10" fill="#000"/>
<rect x="12" y="267" width="25" height="8" fill="#fff"/>
<polygon points="36.50,269.70 42.80,271.00 36.50,272.30" fill="#fff" shape-rendering="auto"/>
<text x="23.55" y="274.97" font-size="11.5" text-anchor="middle" fill="#000" textLength="18.5" lengthAdjust="spacingAndGlyphs">JA5</text>
<polygon points="118.00,282.70 114.00,281.50 108.00,281.50 108.00,277.50 114.00,277.50 118.00,276.30" fill="#000" shape-rendering="auto"/>
<line x1="108.50" y1="279.50" x2="104.00" y2="279.50" stroke="#000" stroke-width="2.2" shape-rendering="auto"/>
<rect x="118" y="273" width="28" height="13" fill="#000"/>
<rect x="117" y="274" width="30" height="11" fill="#000"/>
<rect x="119" y="275" width="26" height="9" fill="#fff"/>
<polygon points="119.50,280.80 113.20,279.50 119.50,278.20" fill="#fff" shape-rendering="auto"/>
<text x="130.65" y="283.47" font-size="11.5" text-anchor="middle" fill="#000" textLength="18.5" lengthAdjust="spacingAndGlyphs">JA7</text>
<polygon points="111.00,311.20 107.00,310.00 101.00,310.00 101.00,306.00 107.00,306.00 111.00,304.80" fill="#000" shape-rendering="auto"/>
<line x1="101.50" y1="308.00" x2="97.00" y2="308.00" stroke="#000" stroke-width="2.2" shape-rendering="auto"/>
<rect x="111" y="301" width="28" height="14" fill="#000"/>
<rect x="110" y="302" width="30" height="12" fill="#000"/>
<rect x="112" y="303" width="26" height="10" fill="#fff"/>
<polygon points="112.50,309.30 106.20,308.00 112.50,306.70" fill="#fff" shape-rendering="auto"/>
<text x="124.45" y="311.97" font-size="11.5" text-anchor="middle" fill="#000" textLength="18.5" lengthAdjust="spacingAndGlyphs">JA2</text>
<polygon points="217.20,267.00 216.00,271.00 216.00,277.00 212.00,277.00 212.00,271.00 210.80,267.00" fill="#000" shape-rendering="auto"/>
<line x1="214.00" y1="276.50" x2="214.00" y2="282.00" stroke="#000" stroke-width="2.2" shape-rendering="auto"/>
<rect x="198" y="253" width="33" height="15" fill="#000"/>
<rect x="197" y="254" width="35" height="13" fill="#000"/>
<rect x="199" y="255" width="31" height="11" fill="#fff"/>
<polygon points="215.30,265.50 214.00,271.80 212.70,265.50" fill="#fff" shape-rendering="auto"/>
<text x="213.00" y="264.47" font-size="11.5" text-anchor="middle" fill="#000" textLength="23.4" lengthAdjust="spacingAndGlyphs">JP11</text>
<line x1="441.00" y1="272.00" x2="433.00" y2="279.00" stroke="#000" stroke-width="2.5" shape-rendering="auto"/>
<rect x="440" y="259" width="26" height="15" fill="#000"/>
<rect x="439" y="260" width="28" height="13" fill="#000"/>
<rect x="441" y="261" width="24" height="11" fill="#fff"/>
<text x="452.10" y="270.47" font-size="11.5" text-anchor="middle" fill="#000" textLength="19.0" lengthAdjust="spacingAndGlyphs">JB3</text>
<polygon points="402.00,281.80 406.00,283.00 412.00,283.00 412.00,287.00 406.00,287.00 402.00,288.20" fill="#000" shape-rendering="auto"/>
<line x1="411.50" y1="285.00" x2="415.00" y2="285.00" stroke="#000" stroke-width="2.2" shape-rendering="auto"/>
<rect x="375" y="278" width="27" height="14" fill="#000"/>
<rect x="374" y="279" width="29" height="12" fill="#000"/>
<rect x="376" y="280" width="25" height="10" fill="#fff"/>
<polygon points="400.50,283.70 406.80,285.00 400.50,286.30" fill="#fff" shape-rendering="auto"/>
<text x="386.70" y="288.97" font-size="11.5" text-anchor="middle" fill="#000" textLength="19.0" lengthAdjust="spacingAndGlyphs">JB1</text>
<line x1="420.00" y1="299.00" x2="425.00" y2="291.00" stroke="#000" stroke-width="2.5" shape-rendering="auto"/>
<rect x="395" y="297" width="26" height="15" fill="#000"/>
<rect x="394" y="298" width="28" height="13" fill="#000"/>
<rect x="396" y="299" width="24" height="11" fill="#fff"/>
<text x="407.30" y="308.47" font-size="11.5" text-anchor="middle" fill="#000" textLength="19.0" lengthAdjust="spacingAndGlyphs">JB2</text>
<line x1="449.00" y1="299.00" x2="441.00" y2="291.00" stroke="#000" stroke-width="2.5" shape-rendering="auto"/>
<rect x="448" y="297" width="27" height="15" fill="#000"/>
<rect x="447" y="298" width="29" height="13" fill="#000"/>
<rect x="449" y="299" width="25" height="11" fill="#fff"/>
<text x="460.60" y="308.47" font-size="11.5" text-anchor="middle" fill="#000" textLength="20.6" lengthAdjust="spacingAndGlyphs">JB4</text>
<polygon points="490.00,284.20 486.00,283.00 480.00,283.00 480.00,279.00 486.00,279.00 490.00,277.80" fill="#000" shape-rendering="auto"/>
<line x1="480.50" y1="281.00" x2="476.00" y2="282.00" stroke="#000" stroke-width="2.2" shape-rendering="auto"/>
<rect x="490" y="274" width="28" height="14" fill="#000"/>
<rect x="489" y="275" width="30" height="12" fill="#000"/>
<rect x="491" y="276" width="26" height="10" fill="#fff"/>
<polygon points="491.50,282.30 485.20,281.00 491.50,279.70" fill="#fff" shape-rendering="auto"/>
<text x="503.35" y="284.97" font-size="11.5" text-anchor="middle" fill="#000" textLength="25.7" lengthAdjust="spacingAndGlyphs">JP20</text>
<polygon points="42.00,327.30 46.00,328.50 52.00,328.50 52.00,332.50 46.00,332.50 42.00,333.70" fill="#000" shape-rendering="auto"/>
<line x1="51.50" y1="330.50" x2="57.00" y2="331.00" stroke="#000" stroke-width="2.2" shape-rendering="auto"/>
<rect x="15" y="324" width="27" height="13" fill="#000"/>
<rect x="14" y="325" width="29" height="11" fill="#000"/>
<rect x="16" y="326" width="25" height="9" fill="#fff"/>
<polygon points="40.50,329.20 46.80,330.50 40.50,331.80" fill="#fff" shape-rendering="auto"/>
<text x="26.90" y="334.47" font-size="11.5" text-anchor="middle" fill="#000" textLength="16.8" lengthAdjust="spacingAndGlyphs">J22</text>
<polygon points="42.00,456.30 46.00,457.50 52.00,457.50 52.00,461.50 46.00,461.50 42.00,462.70" fill="#000" shape-rendering="auto"/>
<line x1="51.50" y1="459.50" x2="57.00" y2="459.00" stroke="#000" stroke-width="2.2" shape-rendering="auto"/>
<rect x="15" y="453" width="27" height="13" fill="#000"/>
<rect x="14" y="454" width="29" height="11" fill="#000"/>
<rect x="16" y="455" width="25" height="9" fill="#fff"/>
<polygon points="40.50,458.20 46.80,459.50 40.50,460.80" fill="#fff" shape-rendering="auto"/>
<text x="27.35" y="463.47" font-size="11.5" text-anchor="middle" fill="#000" textLength="18.7" lengthAdjust="spacingAndGlyphs">JA3</text>
<polygon points="110.00,507.70 106.00,506.50 100.00,506.50 100.00,502.50 106.00,502.50 110.00,501.30" fill="#000" shape-rendering="auto"/>
<line x1="100.50" y1="504.50" x2="96.00" y2="505.00" stroke="#000" stroke-width="2.2" shape-rendering="auto"/>
<rect x="110" y="498" width="26" height="13" fill="#000"/>
<rect x="109" y="499" width="28" height="11" fill="#000"/>
<rect x="111" y="500" width="24" height="9" fill="#fff"/>
<polygon points="111.50,505.80 105.20,504.50 111.50,503.20" fill="#fff" shape-rendering="auto"/>
<text x="123.85" y="508.47" font-size="11.5" text-anchor="middle" fill="#000" textLength="17.3" lengthAdjust="spacingAndGlyphs">JA1</text>
<polygon points="87.00,547.20 83.00,546.00 77.00,546.00 77.00,542.00 83.00,542.00 87.00,540.80" fill="#000" shape-rendering="auto"/>
<line x1="77.50" y1="544.00" x2="75.00" y2="545.00" stroke="#000" stroke-width="2.2" shape-rendering="auto"/>
<rect x="87" y="537" width="28" height="14" fill="#000"/>
<rect x="86" y="538" width="30" height="12" fill="#000"/>
<rect x="88" y="539" width="26" height="10" fill="#fff"/>
<polygon points="88.50,545.30 82.20,544.00 88.50,542.70" fill="#fff" shape-rendering="auto"/>
<text x="101.60" y="547.97" font-size="11.5" text-anchor="middle" fill="#000" textLength="20.6" lengthAdjust="spacingAndGlyphs">JOH</text>
<polygon points="87.00,563.70 83.00,562.50 77.00,562.50 77.00,558.50 83.00,558.50 87.00,557.30" fill="#000" shape-rendering="auto"/>
<line x1="77.50" y1="560.50" x2="75.00" y2="560.00" stroke="#000" stroke-width="2.2" shape-rendering="auto"/>
<rect x="87" y="553" width="32" height="15" fill="#000"/>
<rect x="86" y="554" width="34" height="13" fill="#000"/>
<rect x="88" y="555" width="30" height="11" fill="#fff"/>
<polygon points="88.50,561.80 82.20,560.50 88.50,559.20" fill="#fff" shape-rendering="auto"/>
<text x="102.90" y="564.47" font-size="11.5" text-anchor="middle" fill="#000" textLength="28.8" lengthAdjust="spacingAndGlyphs">BZON</text>
<polygon points="108.00,600.70 104.00,599.50 98.00,599.50 98.00,595.50 104.00,595.50 108.00,594.30" fill="#000" shape-rendering="auto"/>
<line x1="98.50" y1="597.50" x2="96.00" y2="598.00" stroke="#000" stroke-width="2.2" shape-rendering="auto"/>
<rect x="108" y="590" width="32" height="15" fill="#000"/>
<rect x="107" y="591" width="34" height="13" fill="#000"/>
<rect x="109" y="592" width="30" height="11" fill="#fff"/>
<polygon points="109.50,598.80 103.20,597.50 109.50,596.20" fill="#fff" shape-rendering="auto"/>
<text x="123.65" y="601.47" font-size="11.5" text-anchor="middle" fill="#000" textLength="29.5" lengthAdjust="spacingAndGlyphs">PWR2</text>
<line x1="220.00" y1="554.00" x2="212.00" y2="562.00" stroke="#000" stroke-width="2.5" shape-rendering="auto"/>
<rect x="219" y="541" width="25" height="15" fill="#000"/>
<rect x="218" y="542" width="27" height="13" fill="#000"/>
<rect x="220" y="543" width="23" height="11" fill="#fff"/>
<text x="231.10" y="552.47" font-size="11.5" text-anchor="middle" fill="#000" textLength="19.4" lengthAdjust="spacingAndGlyphs">JT3</text>
<polygon points="255.30,606.00 256.50,602.00 256.50,596.00 260.50,596.00 260.50,602.00 261.70,606.00" fill="#000" shape-rendering="auto"/>
<line x1="258.50" y1="596.50" x2="258.50" y2="593.00" stroke="#000" stroke-width="2.2" shape-rendering="auto"/>
<rect x="247" y="605" width="25" height="15" fill="#000"/>
<rect x="246" y="606" width="27" height="13" fill="#000"/>
<rect x="248" y="607" width="23" height="11" fill="#fff"/>
<polygon points="257.20,607.50 258.50,601.20 259.80,607.50" fill="#fff" shape-rendering="auto"/>
<text x="259.10" y="616.47" font-size="11.5" text-anchor="middle" fill="#000" textLength="19.4" lengthAdjust="spacingAndGlyphs">JT2</text>
<polygon points="386.20,571.00 385.00,575.00 385.00,581.00 381.00,581.00 381.00,575.00 379.80,571.00" fill="#000" shape-rendering="auto"/>
<line x1="383.00" y1="580.50" x2="383.00" y2="584.00" stroke="#000" stroke-width="2.2" shape-rendering="auto"/>
<rect x="370" y="557" width="25" height="15" fill="#000"/>
<rect x="369" y="558" width="27" height="13" fill="#000"/>
<rect x="371" y="559" width="23" height="11" fill="#fff"/>
<polygon points="384.30,569.50 383.00,575.80 381.70,569.50" fill="#fff" shape-rendering="auto"/>
<text x="381.55" y="568.47" font-size="11.5" text-anchor="middle" fill="#000" textLength="18.5" lengthAdjust="spacingAndGlyphs">JT1</text>
<polygon points="471.20,474.00 470.00,478.00 470.00,484.00 466.00,484.00 466.00,478.00 464.80,474.00" fill="#000" shape-rendering="auto"/>
<line x1="468.00" y1="483.50" x2="468.00" y2="487.00" stroke="#000" stroke-width="2.2" shape-rendering="auto"/>
<rect x="456" y="460" width="24" height="15" fill="#000"/>
<rect x="455" y="461" width="26" height="13" fill="#000"/>
<rect x="457" y="462" width="22" height="11" fill="#fff"/>
<polygon points="469.30,472.50 468.00,478.80 466.70,472.50" fill="#fff" shape-rendering="auto"/>
<text x="467.80" y="471.47" font-size="11.5" text-anchor="middle" fill="#000" textLength="21.4" lengthAdjust="spacingAndGlyphs">ATX</text>
<polygon points="571.00,406.20 567.00,405.00 561.00,405.00 561.00,401.00 567.00,401.00 571.00,399.80" fill="#000" shape-rendering="auto"/>
<line x1="561.50" y1="403.00" x2="558.00" y2="403.00" stroke="#000" stroke-width="2.2" shape-rendering="auto"/>
<rect x="571" y="396" width="27" height="14" fill="#000"/>
<rect x="570" y="397" width="29" height="12" fill="#000"/>
<rect x="572" y="398" width="25" height="10" fill="#fff"/>
<polygon points="572.50,404.30 566.20,403.00 572.50,401.70" fill="#fff" shape-rendering="auto"/>
<text x="582.35" y="406.97" font-size="11.5" text-anchor="middle" fill="#000" textLength="17.7" lengthAdjust="spacingAndGlyphs">J20</text>
<polygon points="572.00,472.70 568.00,471.50 562.00,471.50 562.00,467.50 568.00,467.50 572.00,466.30" fill="#000" shape-rendering="auto"/>
<line x1="562.50" y1="469.50" x2="559.00" y2="468.00" stroke="#000" stroke-width="2.2" shape-rendering="auto"/>
<rect x="572" y="462" width="26" height="15" fill="#000"/>
<rect x="571" y="463" width="28" height="13" fill="#000"/>
<rect x="573" y="464" width="24" height="11" fill="#fff"/>
<polygon points="573.50,470.80 567.20,469.50 573.50,468.20" fill="#fff" shape-rendering="auto"/>
<text x="583.80" y="473.47" font-size="11.5" text-anchor="middle" fill="#000" textLength="17.2" lengthAdjust="spacingAndGlyphs">J21</text>
<polygon points="557.00,533.70 553.00,532.50 547.00,532.50 547.00,528.50 553.00,528.50 557.00,527.30" fill="#000" shape-rendering="auto"/>
<line x1="547.50" y1="530.50" x2="545.00" y2="531.00" stroke="#000" stroke-width="2.2" shape-rendering="auto"/>
<rect x="557" y="523" width="28" height="15" fill="#000"/>
<rect x="556" y="524" width="30" height="13" fill="#000"/>
<rect x="558" y="525" width="26" height="11" fill="#fff"/>
<polygon points="558.50,531.80 552.20,530.50 558.50,529.20" fill="#fff" shape-rendering="auto"/>
<text x="570.65" y="534.47" font-size="11.5" text-anchor="middle" fill="#000" textLength="18.5" lengthAdjust="spacingAndGlyphs">J17</text>
<polygon points="557.00,571.20 553.00,570.00 547.00,570.00 547.00,566.00 553.00,566.00 557.00,564.80" fill="#000" shape-rendering="auto"/>
<line x1="547.50" y1="568.00" x2="545.00" y2="568.00" stroke="#000" stroke-width="2.2" shape-rendering="auto"/>
<rect x="557" y="561" width="27" height="14" fill="#000"/>
<rect x="556" y="562" width="29" height="12" fill="#000"/>
<rect x="558" y="563" width="25" height="10" fill="#fff"/>
<polygon points="558.50,569.30 552.20,568.00 558.50,566.70" fill="#fff" shape-rendering="auto"/>
<text x="569.40" y="571.97" font-size="11.5" text-anchor="middle" fill="#000" textLength="18.8" lengthAdjust="spacingAndGlyphs">J34</text>
<rect x="498" y="524" width="24" height="15" fill="#000"/>
<rect x="497" y="525" width="26" height="13" fill="#000"/>
<rect x="499" y="526" width="22" height="11" fill="#fff"/>
<text x="509.55" y="535.47" font-size="11.5" text-anchor="middle" fill="#000" textLength="19.1" lengthAdjust="spacingAndGlyphs">J18</text>
<rect x="314" y="451" width="32" height="15" fill="#000"/>
<rect x="313" y="452" width="34" height="13" fill="#000"/>
<rect x="315" y="453" width="30" height="11" fill="#fff"/>
<text x="329.65" y="462.47" font-size="11.5" text-anchor="middle" fill="#000" textLength="28.3" lengthAdjust="spacingAndGlyphs">CPU2</text>
<rect x="421" y="451" width="31" height="14" fill="#000"/>
<rect x="420" y="452" width="33" height="12" fill="#000"/>
<rect x="422" y="453" width="29" height="10" fill="#fff"/>
<text x="437.15" y="461.97" font-size="11.5" text-anchor="middle" fill="#000" textLength="28.3" lengthAdjust="spacingAndGlyphs">CPU1</text>
</svg></body></html>
